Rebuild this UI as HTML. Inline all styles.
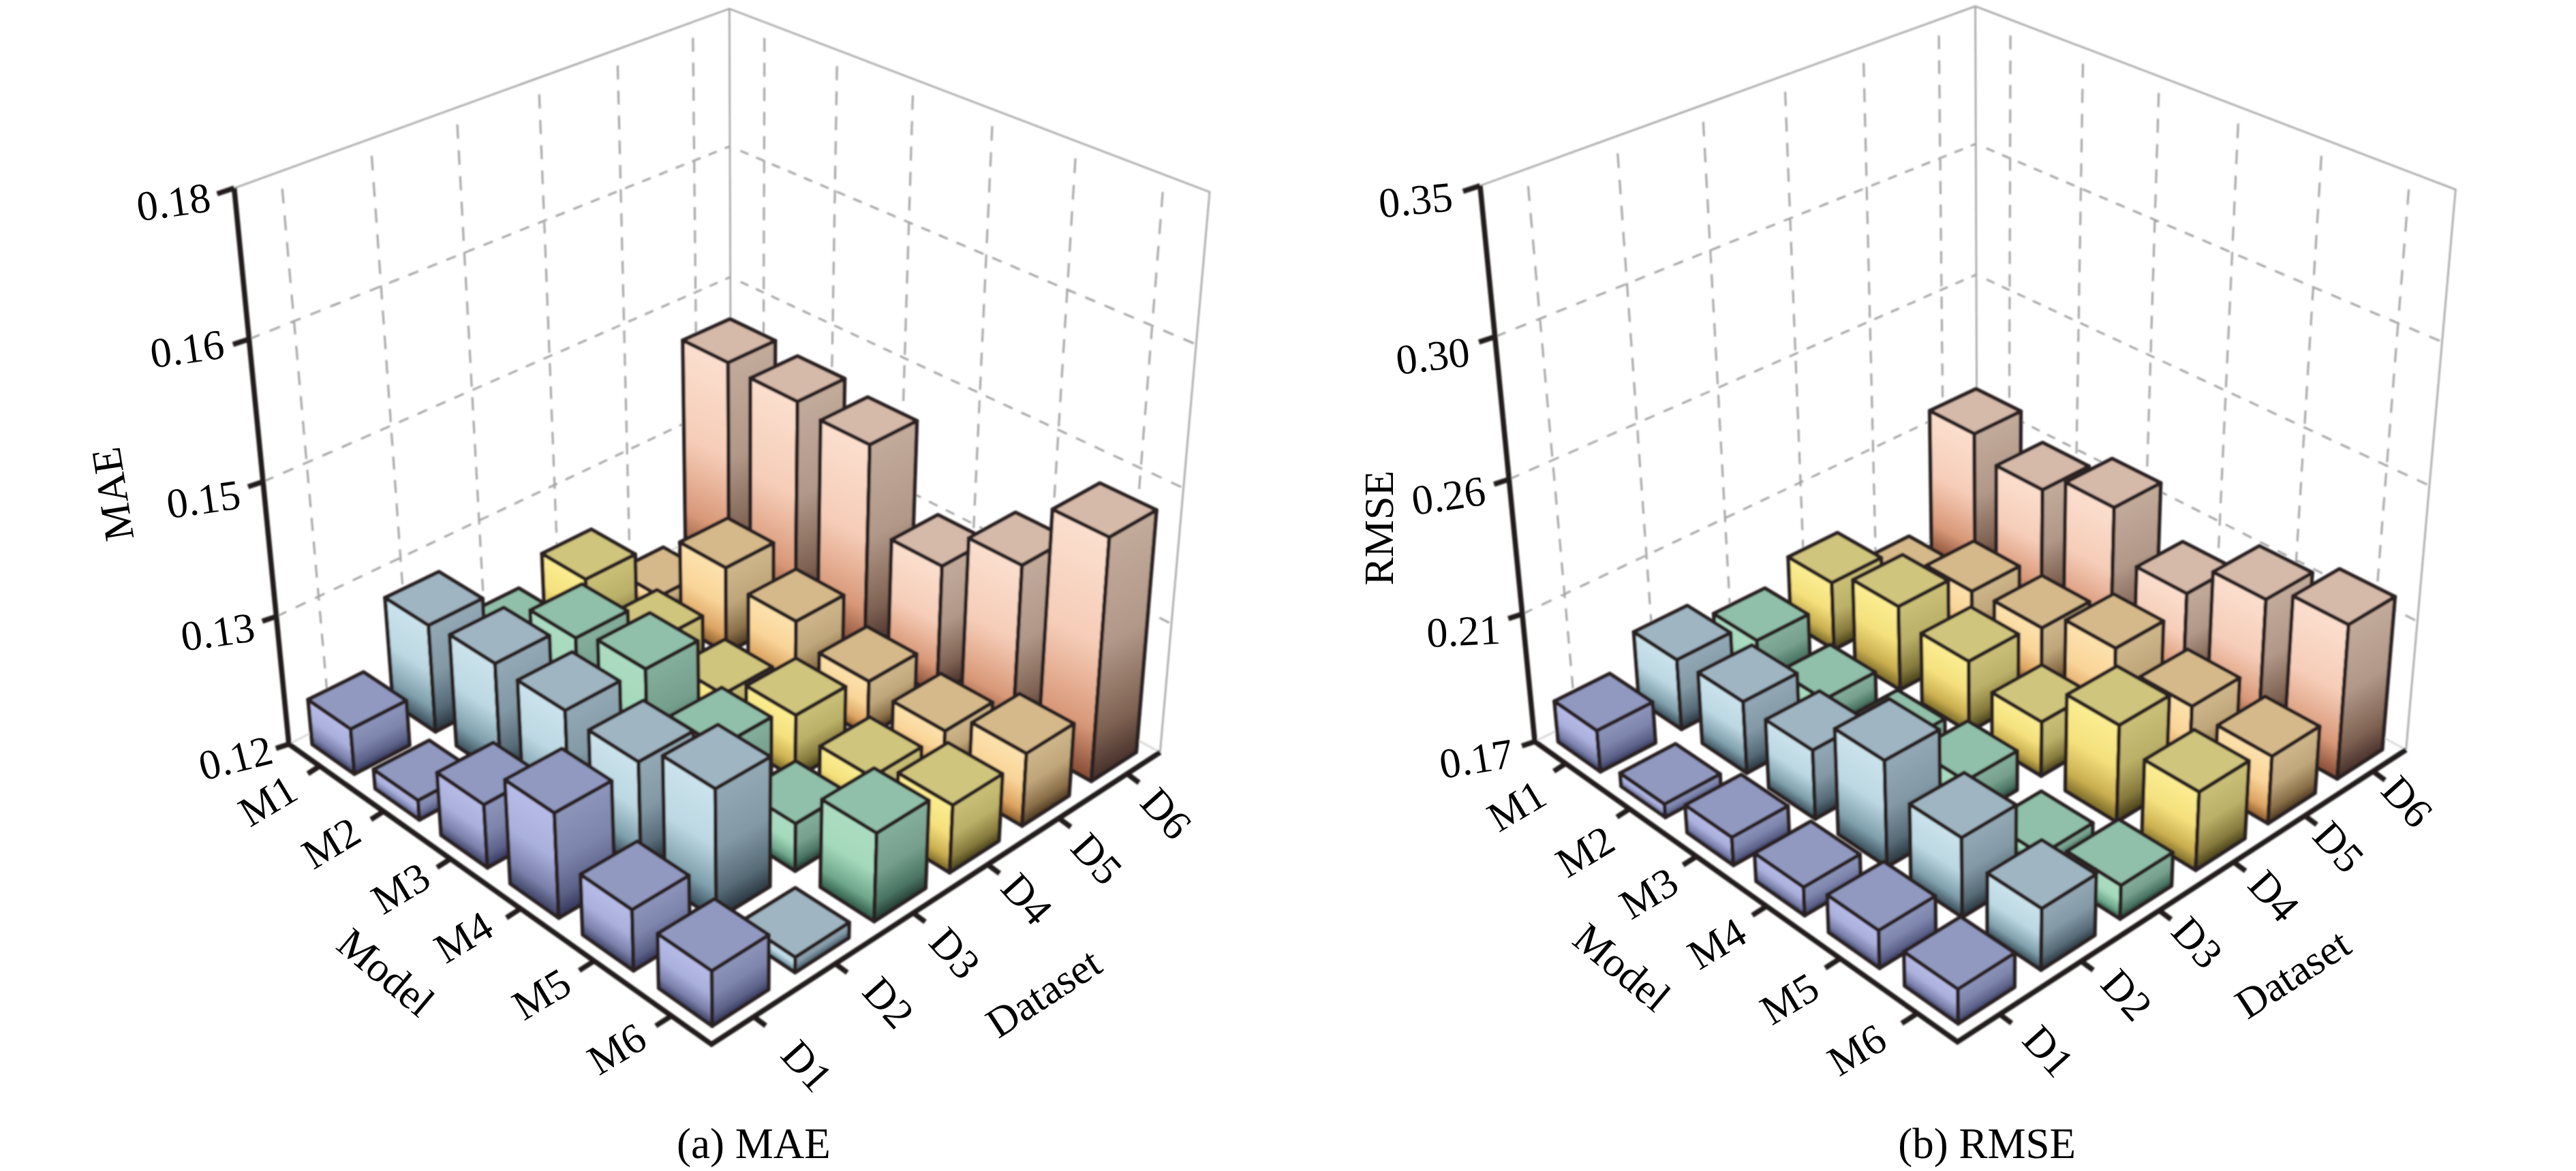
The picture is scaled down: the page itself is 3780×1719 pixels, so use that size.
<!DOCTYPE html>
<html><head><meta charset="utf-8"><title>MAE / RMSE</title>
<style>
html,body{margin:0;padding:0;background:#fff;}
body{width:3780px;height:1719px;overflow:hidden;font-family:"Liberation Serif",serif;}
svg{display:block;}
text{font-family:"Liberation Serif",serif;fill:#000;}
</style></head><body>
<svg width="3780" height="1719" viewBox="0 0 3780 1719">
<rect width="3780" height="1719" fill="#fff"/>
<defs>
<filter id="bl" x="0" y="0" width="3780" height="1719" filterUnits="userSpaceOnUse"><feGaussianBlur stdDeviation="1.1"/></filter>
<linearGradient id="a16l" gradientUnits="userSpaceOnUse" x1="1002.0" y1="499.5" x2="878.4" y2="750.3"><stop offset="0" stop-color="#fbdfcf"/><stop offset="0.45" stop-color="#f6cdb8"/><stop offset="0.8" stop-color="#d89878"/><stop offset="1" stop-color="#8a5038"/></linearGradient>
<linearGradient id="a16r" gradientUnits="userSpaceOnUse" x1="1068.4" y1="532.2" x2="1189.2" y2="793.6"><stop offset="0" stop-color="#c3ab9b"/><stop offset="0.45" stop-color="#b19888"/><stop offset="0.8" stop-color="#7f6252"/><stop offset="1" stop-color="#46302a"/></linearGradient>
<linearGradient id="a15l" gradientUnits="userSpaceOnUse" x1="904.2" y1="838.3" x2="892.9" y2="857.9"><stop offset="0" stop-color="#fde3ae"/><stop offset="0.45" stop-color="#f9d498"/><stop offset="0.8" stop-color="#dca462"/><stop offset="1" stop-color="#8f5f2c"/></linearGradient>
<linearGradient id="a15r" gradientUnits="userSpaceOnUse" x1="967.8" y1="875.1" x2="978.9" y2="896.4"><stop offset="0" stop-color="#cfb78c"/><stop offset="0.45" stop-color="#bfa67a"/><stop offset="0.8" stop-color="#8a6f48"/><stop offset="1" stop-color="#4a3620"/></linearGradient>
<linearGradient id="a14l" gradientUnits="userSpaceOnUse" x1="795.3" y1="812.7" x2="750.3" y2="889.4"><stop offset="0" stop-color="#fbee93"/><stop offset="0.45" stop-color="#f4e07c"/><stop offset="0.8" stop-color="#c9ae50"/><stop offset="1" stop-color="#7a6a28"/></linearGradient>
<linearGradient id="a14r" gradientUnits="userSpaceOnUse" x1="859.4" y1="850.3" x2="902.9" y2="936.9"><stop offset="0" stop-color="#cbc078"/><stop offset="0.45" stop-color="#bbb068"/><stop offset="0.8" stop-color="#857a3c"/><stop offset="1" stop-color="#443d18"/></linearGradient>
<linearGradient id="a13l" gradientUnits="userSpaceOnUse" x1="686.2" y1="900.8" x2="654.4" y2="951.8"><stop offset="0" stop-color="#acdcc2"/><stop offset="0.45" stop-color="#a5d9bc"/><stop offset="0.8" stop-color="#6fa78c"/><stop offset="1" stop-color="#2f5a48"/></linearGradient>
<linearGradient id="a13r" gradientUnits="userSpaceOnUse" x1="749.6" y1="940.3" x2="780.3" y2="1000.6"><stop offset="0" stop-color="#84af9c"/><stop offset="0.45" stop-color="#76a08d"/><stop offset="0.8" stop-color="#4a7463"/><stop offset="1" stop-color="#223a31"/></linearGradient>
<linearGradient id="a12l" gradientUnits="userSpaceOnUse" x1="565.0" y1="877.4" x2="498.3" y2="982.5"><stop offset="0" stop-color="#cbe3ec"/><stop offset="0.45" stop-color="#bcd8e2"/><stop offset="0.8" stop-color="#7f9fac"/><stop offset="1" stop-color="#3a4f5a"/></linearGradient>
<linearGradient id="a12r" gradientUnits="userSpaceOnUse" x1="628.7" y1="917.9" x2="692.8" y2="1047.5"><stop offset="0" stop-color="#93a9b5"/><stop offset="0.45" stop-color="#8399a5"/><stop offset="0.8" stop-color="#566b77"/><stop offset="1" stop-color="#28343d"/></linearGradient>
<linearGradient id="a11l" gradientUnits="userSpaceOnUse" x1="452.1" y1="1027.1" x2="423.4" y2="1068.7"><stop offset="0" stop-color="#b7bce7"/><stop offset="0.45" stop-color="#aab0dc"/><stop offset="0.8" stop-color="#7a80aa"/><stop offset="1" stop-color="#3f4366"/></linearGradient>
<linearGradient id="a11r" gradientUnits="userSpaceOnUse" x1="514.5" y1="1070.2" x2="542.5" y2="1124.9"><stop offset="0" stop-color="#8e95bb"/><stop offset="0.45" stop-color="#7e85ac"/><stop offset="0.8" stop-color="#5c6188"/><stop offset="1" stop-color="#33365a"/></linearGradient>
<linearGradient id="a26l" gradientUnits="userSpaceOnUse" x1="1101.0" y1="555.1" x2="977.3" y2="805.3"><stop offset="0" stop-color="#fbdfcf"/><stop offset="0.45" stop-color="#f6cdb8"/><stop offset="0.8" stop-color="#d89878"/><stop offset="1" stop-color="#8a5038"/></linearGradient>
<linearGradient id="a26r" gradientUnits="userSpaceOnUse" x1="1170.2" y1="589.4" x2="1292.6" y2="843.0"><stop offset="0" stop-color="#c3ab9b"/><stop offset="0.45" stop-color="#b19888"/><stop offset="0.8" stop-color="#7f6252"/><stop offset="1" stop-color="#46302a"/></linearGradient>
<linearGradient id="a25l" gradientUnits="userSpaceOnUse" x1="997.7" y1="796.0" x2="945.3" y2="889.9"><stop offset="0" stop-color="#fde3ae"/><stop offset="0.45" stop-color="#f9d498"/><stop offset="0.8" stop-color="#dca462"/><stop offset="1" stop-color="#8f5f2c"/></linearGradient>
<linearGradient id="a25r" gradientUnits="userSpaceOnUse" x1="1065.0" y1="833.5" x2="1116.3" y2="932.3"><stop offset="0" stop-color="#cfb78c"/><stop offset="0.45" stop-color="#bfa67a"/><stop offset="0.8" stop-color="#8a6f48"/><stop offset="1" stop-color="#4a3620"/></linearGradient>
<linearGradient id="a24l" gradientUnits="userSpaceOnUse" x1="891.8" y1="903.2" x2="860.4" y2="956.0"><stop offset="0" stop-color="#fbee93"/><stop offset="0.45" stop-color="#f4e07c"/><stop offset="0.8" stop-color="#c9ae50"/><stop offset="1" stop-color="#7a6a28"/></linearGradient>
<linearGradient id="a24r" gradientUnits="userSpaceOnUse" x1="958.4" y1="942.8" x2="989.1" y2="1000.7"><stop offset="0" stop-color="#cbc078"/><stop offset="0.45" stop-color="#bbb068"/><stop offset="0.8" stop-color="#857a3c"/><stop offset="1" stop-color="#443d18"/></linearGradient>
<linearGradient id="a23l" gradientUnits="userSpaceOnUse" x1="777.9" y1="895.7" x2="718.2" y2="993.9"><stop offset="0" stop-color="#acdcc2"/><stop offset="0.45" stop-color="#a5d9bc"/><stop offset="0.8" stop-color="#6fa78c"/><stop offset="1" stop-color="#2f5a48"/></linearGradient>
<linearGradient id="a23r" gradientUnits="userSpaceOnUse" x1="844.8" y1="936.4" x2="902.9" y2="1048.6"><stop offset="0" stop-color="#84af9c"/><stop offset="0.45" stop-color="#76a08d"/><stop offset="0.8" stop-color="#4a7463"/><stop offset="1" stop-color="#223a31"/></linearGradient>
<linearGradient id="a22l" gradientUnits="userSpaceOnUse" x1="659.7" y1="931.7" x2="588.9" y2="1043.4"><stop offset="0" stop-color="#cbe3ec"/><stop offset="0.45" stop-color="#bcd8e2"/><stop offset="0.8" stop-color="#7f9fac"/><stop offset="1" stop-color="#3a4f5a"/></linearGradient>
<linearGradient id="a22r" gradientUnits="userSpaceOnUse" x1="726.4" y1="973.9" x2="795.0" y2="1107.7"><stop offset="0" stop-color="#93a9b5"/><stop offset="0.45" stop-color="#8399a5"/><stop offset="0.8" stop-color="#566b77"/><stop offset="1" stop-color="#28343d"/></linearGradient>
<linearGradient id="a21l" gradientUnits="userSpaceOnUse" x1="548.3" y1="1129.6" x2="535.8" y2="1147.5"><stop offset="0" stop-color="#b7bce7"/><stop offset="0.45" stop-color="#aab0dc"/><stop offset="0.8" stop-color="#7a80aa"/><stop offset="1" stop-color="#3f4366"/></linearGradient>
<linearGradient id="a21r" gradientUnits="userSpaceOnUse" x1="613.4" y1="1175.0" x2="625.7" y2="1197.9"><stop offset="0" stop-color="#8e95bb"/><stop offset="0.45" stop-color="#7e85ac"/><stop offset="0.8" stop-color="#5c6188"/><stop offset="1" stop-color="#33365a"/></linearGradient>
<linearGradient id="a36l" gradientUnits="userSpaceOnUse" x1="1204.1" y1="616.9" x2="1081.8" y2="863.2"><stop offset="0" stop-color="#fbdfcf"/><stop offset="0.45" stop-color="#f6cdb8"/><stop offset="0.8" stop-color="#d89878"/><stop offset="1" stop-color="#8a5038"/></linearGradient>
<linearGradient id="a36r" gradientUnits="userSpaceOnUse" x1="1276.3" y1="652.8" x2="1398.6" y2="894.8"><stop offset="0" stop-color="#c3ab9b"/><stop offset="0.45" stop-color="#b19888"/><stop offset="0.8" stop-color="#7f6252"/><stop offset="1" stop-color="#46302a"/></linearGradient>
<linearGradient id="a35l" gradientUnits="userSpaceOnUse" x1="1098.0" y1="872.6" x2="1053.2" y2="952.5"><stop offset="0" stop-color="#fde3ae"/><stop offset="0.45" stop-color="#f9d498"/><stop offset="0.8" stop-color="#dca462"/><stop offset="1" stop-color="#8f5f2c"/></linearGradient>
<linearGradient id="a35r" gradientUnits="userSpaceOnUse" x1="1168.1" y1="912.0" x2="1212.4" y2="993.3"><stop offset="0" stop-color="#cfb78c"/><stop offset="0.45" stop-color="#bfa67a"/><stop offset="0.8" stop-color="#8a6f48"/><stop offset="1" stop-color="#4a3620"/></linearGradient>
<linearGradient id="a34l" gradientUnits="userSpaceOnUse" x1="991.4" y1="977.7" x2="965.9" y2="1020.2"><stop offset="0" stop-color="#fbee93"/><stop offset="0.45" stop-color="#f4e07c"/><stop offset="0.8" stop-color="#c9ae50"/><stop offset="1" stop-color="#7a6a28"/></linearGradient>
<linearGradient id="a34r" gradientUnits="userSpaceOnUse" x1="1060.8" y1="1019.2" x2="1085.8" y2="1064.3"><stop offset="0" stop-color="#cbc078"/><stop offset="0.45" stop-color="#bbb068"/><stop offset="0.8" stop-color="#857a3c"/><stop offset="1" stop-color="#443d18"/></linearGradient>
<linearGradient id="a33l" gradientUnits="userSpaceOnUse" x1="877.1" y1="939.6" x2="808.9" y2="1052.4"><stop offset="0" stop-color="#acdcc2"/><stop offset="0.45" stop-color="#a5d9bc"/><stop offset="0.8" stop-color="#6fa78c"/><stop offset="1" stop-color="#2f5a48"/></linearGradient>
<linearGradient id="a33r" gradientUnits="userSpaceOnUse" x1="947.3" y1="982.0" x2="1014.0" y2="1106.6"><stop offset="0" stop-color="#84af9c"/><stop offset="0.45" stop-color="#76a08d"/><stop offset="0.8" stop-color="#4a7463"/><stop offset="1" stop-color="#223a31"/></linearGradient>
<linearGradient id="a32l" gradientUnits="userSpaceOnUse" x1="759.4" y1="998.6" x2="688.6" y2="1110.1"><stop offset="0" stop-color="#cbe3ec"/><stop offset="0.45" stop-color="#bcd8e2"/><stop offset="0.8" stop-color="#7f9fac"/><stop offset="1" stop-color="#3a4f5a"/></linearGradient>
<linearGradient id="a32r" gradientUnits="userSpaceOnUse" x1="829.2" y1="1042.9" x2="898.4" y2="1172.1"><stop offset="0" stop-color="#93a9b5"/><stop offset="0.45" stop-color="#8399a5"/><stop offset="0.8" stop-color="#566b77"/><stop offset="1" stop-color="#28343d"/></linearGradient>
<linearGradient id="a31l" gradientUnits="userSpaceOnUse" x1="641.2" y1="1134.1" x2="600.4" y2="1193.8"><stop offset="0" stop-color="#b7bce7"/><stop offset="0.45" stop-color="#aab0dc"/><stop offset="0.8" stop-color="#7a80aa"/><stop offset="1" stop-color="#3f4366"/></linearGradient>
<linearGradient id="a31r" gradientUnits="userSpaceOnUse" x1="710.0" y1="1181.2" x2="750.3" y2="1254.6"><stop offset="0" stop-color="#8e95bb"/><stop offset="0.45" stop-color="#7e85ac"/><stop offset="0.8" stop-color="#5c6188"/><stop offset="1" stop-color="#33365a"/></linearGradient>
<linearGradient id="a46l" gradientUnits="userSpaceOnUse" x1="1308.2" y1="792.3" x2="1230.2" y2="941.7"><stop offset="0" stop-color="#fbdfcf"/><stop offset="0.45" stop-color="#f6cdb8"/><stop offset="0.8" stop-color="#d89878"/><stop offset="1" stop-color="#8a5038"/></linearGradient>
<linearGradient id="a46r" gradientUnits="userSpaceOnUse" x1="1382.3" y1="831.0" x2="1460.5" y2="972.5"><stop offset="0" stop-color="#c3ab9b"/><stop offset="0.45" stop-color="#b19888"/><stop offset="0.8" stop-color="#7f6252"/><stop offset="1" stop-color="#46302a"/></linearGradient>
<linearGradient id="a45l" gradientUnits="userSpaceOnUse" x1="1202.1" y1="958.8" x2="1167.9" y2="1019.1"><stop offset="0" stop-color="#fde3ae"/><stop offset="0.45" stop-color="#f9d498"/><stop offset="0.8" stop-color="#dca462"/><stop offset="1" stop-color="#8f5f2c"/></linearGradient>
<linearGradient id="a45r" gradientUnits="userSpaceOnUse" x1="1275.0" y1="1000.2" x2="1309.0" y2="1059.3"><stop offset="0" stop-color="#cfb78c"/><stop offset="0.45" stop-color="#bfa67a"/><stop offset="0.8" stop-color="#8a6f48"/><stop offset="1" stop-color="#4a3620"/></linearGradient>
<linearGradient id="a44l" gradientUnits="userSpaceOnUse" x1="1094.9" y1="1006.7" x2="1054.6" y2="1074.8"><stop offset="0" stop-color="#fbee93"/><stop offset="0.45" stop-color="#f4e07c"/><stop offset="0.8" stop-color="#c9ae50"/><stop offset="1" stop-color="#7a6a28"/></linearGradient>
<linearGradient id="a44r" gradientUnits="userSpaceOnUse" x1="1167.9" y1="1049.8" x2="1207.7" y2="1119.3"><stop offset="0" stop-color="#cbc078"/><stop offset="0.45" stop-color="#bbb068"/><stop offset="0.8" stop-color="#857a3c"/><stop offset="1" stop-color="#443d18"/></linearGradient>
<linearGradient id="a43l" gradientUnits="userSpaceOnUse" x1="982.6" y1="1051.4" x2="933.7" y2="1130.9"><stop offset="0" stop-color="#acdcc2"/><stop offset="0.45" stop-color="#a5d9bc"/><stop offset="0.8" stop-color="#6fa78c"/><stop offset="1" stop-color="#2f5a48"/></linearGradient>
<linearGradient id="a43r" gradientUnits="userSpaceOnUse" x1="1055.6" y1="1096.3" x2="1103.7" y2="1180.9"><stop offset="0" stop-color="#84af9c"/><stop offset="0.45" stop-color="#76a08d"/><stop offset="0.8" stop-color="#4a7463"/><stop offset="1" stop-color="#223a31"/></linearGradient>
<linearGradient id="a42l" gradientUnits="userSpaceOnUse" x1="863.8" y1="1071.8" x2="794.5" y2="1180.8"><stop offset="0" stop-color="#cbe3ec"/><stop offset="0.45" stop-color="#bcd8e2"/><stop offset="0.8" stop-color="#7f9fac"/><stop offset="1" stop-color="#3a4f5a"/></linearGradient>
<linearGradient id="a42r" gradientUnits="userSpaceOnUse" x1="937.0" y1="1118.3" x2="1005.2" y2="1240.0"><stop offset="0" stop-color="#93a9b5"/><stop offset="0.45" stop-color="#8399a5"/><stop offset="0.8" stop-color="#566b77"/><stop offset="1" stop-color="#28343d"/></linearGradient>
<linearGradient id="a41l" gradientUnits="userSpaceOnUse" x1="740.7" y1="1144.6" x2="672.5" y2="1246.2"><stop offset="0" stop-color="#b7bce7"/><stop offset="0.45" stop-color="#aab0dc"/><stop offset="0.8" stop-color="#7a80aa"/><stop offset="1" stop-color="#3f4366"/></linearGradient>
<linearGradient id="a41r" gradientUnits="userSpaceOnUse" x1="813.4" y1="1193.3" x2="880.8" y2="1313.3"><stop offset="0" stop-color="#8e95bb"/><stop offset="0.45" stop-color="#7e85ac"/><stop offset="0.8" stop-color="#5c6188"/><stop offset="1" stop-color="#33365a"/></linearGradient>
<linearGradient id="a56l" gradientUnits="userSpaceOnUse" x1="1421.5" y1="789.9" x2="1318.1" y2="992.8"><stop offset="0" stop-color="#fbdfcf"/><stop offset="0.45" stop-color="#f6cdb8"/><stop offset="0.8" stop-color="#d89878"/><stop offset="1" stop-color="#8a5038"/></linearGradient>
<linearGradient id="a56r" gradientUnits="userSpaceOnUse" x1="1499.7" y1="829.8" x2="1604.4" y2="1014.6"><stop offset="0" stop-color="#c3ab9b"/><stop offset="0.45" stop-color="#b19888"/><stop offset="0.8" stop-color="#7f6252"/><stop offset="1" stop-color="#46302a"/></linearGradient>
<linearGradient id="a55l" gradientUnits="userSpaceOnUse" x1="1310.6" y1="1029.6" x2="1279.5" y2="1084.2"><stop offset="0" stop-color="#fde3ae"/><stop offset="0.45" stop-color="#f9d498"/><stop offset="0.8" stop-color="#dca462"/><stop offset="1" stop-color="#8f5f2c"/></linearGradient>
<linearGradient id="a55r" gradientUnits="userSpaceOnUse" x1="1386.8" y1="1073.0" x2="1417.7" y2="1124.3"><stop offset="0" stop-color="#cfb78c"/><stop offset="0.45" stop-color="#bfa67a"/><stop offset="0.8" stop-color="#8a6f48"/><stop offset="1" stop-color="#4a3620"/></linearGradient>
<linearGradient id="a54l" gradientUnits="userSpaceOnUse" x1="1203.4" y1="1095.3" x2="1172.8" y2="1146.6"><stop offset="0" stop-color="#fbee93"/><stop offset="0.45" stop-color="#f4e07c"/><stop offset="0.8" stop-color="#c9ae50"/><stop offset="1" stop-color="#7a6a28"/></linearGradient>
<linearGradient id="a54r" gradientUnits="userSpaceOnUse" x1="1279.5" y1="1140.7" x2="1309.8" y2="1190.8"><stop offset="0" stop-color="#cbc078"/><stop offset="0.45" stop-color="#bbb068"/><stop offset="0.8" stop-color="#857a3c"/><stop offset="1" stop-color="#443d18"/></linearGradient>
<linearGradient id="a53l" gradientUnits="userSpaceOnUse" x1="1091.5" y1="1161.5" x2="1060.6" y2="1211.1"><stop offset="0" stop-color="#acdcc2"/><stop offset="0.45" stop-color="#a5d9bc"/><stop offset="0.8" stop-color="#6fa78c"/><stop offset="1" stop-color="#2f5a48"/></linearGradient>
<linearGradient id="a53r" gradientUnits="userSpaceOnUse" x1="1167.5" y1="1209.0" x2="1198.1" y2="1259.7"><stop offset="0" stop-color="#84af9c"/><stop offset="0.45" stop-color="#76a08d"/><stop offset="0.8" stop-color="#4a7463"/><stop offset="1" stop-color="#223a31"/></linearGradient>
<linearGradient id="a52l" gradientUnits="userSpaceOnUse" x1="972.4" y1="1109.3" x2="887.6" y2="1244.2"><stop offset="0" stop-color="#cbe3ec"/><stop offset="0.45" stop-color="#bcd8e2"/><stop offset="0.8" stop-color="#7f9fac"/><stop offset="1" stop-color="#3a4f5a"/></linearGradient>
<linearGradient id="a52r" gradientUnits="userSpaceOnUse" x1="1049.6" y1="1157.8" x2="1133.4" y2="1302.3"><stop offset="0" stop-color="#93a9b5"/><stop offset="0.45" stop-color="#8399a5"/><stop offset="0.8" stop-color="#566b77"/><stop offset="1" stop-color="#28343d"/></linearGradient>
<linearGradient id="a51l" gradientUnits="userSpaceOnUse" x1="851.7" y1="1283.5" x2="811.4" y2="1342.3"><stop offset="0" stop-color="#b7bce7"/><stop offset="0.45" stop-color="#aab0dc"/><stop offset="0.8" stop-color="#7a80aa"/><stop offset="1" stop-color="#3f4366"/></linearGradient>
<linearGradient id="a51r" gradientUnits="userSpaceOnUse" x1="927.4" y1="1335.4" x2="967.5" y2="1402.2"><stop offset="0" stop-color="#8e95bb"/><stop offset="0.45" stop-color="#7e85ac"/><stop offset="0.8" stop-color="#5c6188"/><stop offset="1" stop-color="#33365a"/></linearGradient>
<linearGradient id="a66l" gradientUnits="userSpaceOnUse" x1="1544.5" y1="747.8" x2="1400.2" y2="1042.8"><stop offset="0" stop-color="#fbdfcf"/><stop offset="0.45" stop-color="#f6cdb8"/><stop offset="0.8" stop-color="#d89878"/><stop offset="1" stop-color="#8a5038"/></linearGradient>
<linearGradient id="a66r" gradientUnits="userSpaceOnUse" x1="1627.8" y1="788.5" x2="1775.8" y2="1046.8"><stop offset="0" stop-color="#c3ab9b"/><stop offset="0.45" stop-color="#b19888"/><stop offset="0.8" stop-color="#7f6252"/><stop offset="1" stop-color="#46302a"/></linearGradient>
<linearGradient id="a65l" gradientUnits="userSpaceOnUse" x1="1425.9" y1="1060.8" x2="1379.5" y2="1143.1"><stop offset="0" stop-color="#fde3ae"/><stop offset="0.45" stop-color="#f9d498"/><stop offset="0.8" stop-color="#dca462"/><stop offset="1" stop-color="#8f5f2c"/></linearGradient>
<linearGradient id="a65r" gradientUnits="userSpaceOnUse" x1="1506.1" y1="1106.0" x2="1552.1" y2="1179.7"><stop offset="0" stop-color="#cfb78c"/><stop offset="0.45" stop-color="#bfa67a"/><stop offset="0.8" stop-color="#8a6f48"/><stop offset="1" stop-color="#4a3620"/></linearGradient>
<linearGradient id="a64l" gradientUnits="userSpaceOnUse" x1="1317.9" y1="1134.5" x2="1274.0" y2="1208.8"><stop offset="0" stop-color="#fbee93"/><stop offset="0.45" stop-color="#f4e07c"/><stop offset="0.8" stop-color="#c9ae50"/><stop offset="1" stop-color="#7a6a28"/></linearGradient>
<linearGradient id="a64r" gradientUnits="userSpaceOnUse" x1="1398.0" y1="1181.8" x2="1441.4" y2="1251.1"><stop offset="0" stop-color="#cbc078"/><stop offset="0.45" stop-color="#bbb068"/><stop offset="0.8" stop-color="#857a3c"/><stop offset="1" stop-color="#443d18"/></linearGradient>
<linearGradient id="a63l" gradientUnits="userSpaceOnUse" x1="1205.9" y1="1173.7" x2="1148.1" y2="1268.1"><stop offset="0" stop-color="#acdcc2"/><stop offset="0.45" stop-color="#a5d9bc"/><stop offset="0.8" stop-color="#6fa78c"/><stop offset="1" stop-color="#2f5a48"/></linearGradient>
<linearGradient id="a63r" gradientUnits="userSpaceOnUse" x1="1286.4" y1="1222.9" x2="1343.5" y2="1314.9"><stop offset="0" stop-color="#84af9c"/><stop offset="0.45" stop-color="#76a08d"/><stop offset="0.8" stop-color="#4a7463"/><stop offset="1" stop-color="#223a31"/></linearGradient>
<linearGradient id="a62l" gradientUnits="userSpaceOnUse" x1="1087.9" y1="1352.5" x2="1077.6" y2="1368.0"><stop offset="0" stop-color="#cbe3ec"/><stop offset="0.45" stop-color="#bcd8e2"/><stop offset="0.8" stop-color="#7f9fac"/><stop offset="1" stop-color="#3a4f5a"/></linearGradient>
<linearGradient id="a62r" gradientUnits="userSpaceOnUse" x1="1166.9" y1="1405.1" x2="1177.1" y2="1420.9"><stop offset="0" stop-color="#93a9b5"/><stop offset="0.45" stop-color="#8399a5"/><stop offset="0.8" stop-color="#566b77"/><stop offset="1" stop-color="#28343d"/></linearGradient>
<linearGradient id="a61l" gradientUnits="userSpaceOnUse" x1="964.9" y1="1370.5" x2="928.0" y2="1424.3"><stop offset="0" stop-color="#b7bce7"/><stop offset="0.45" stop-color="#aab0dc"/><stop offset="0.8" stop-color="#7a80aa"/><stop offset="1" stop-color="#3f4366"/></linearGradient>
<linearGradient id="a61r" gradientUnits="userSpaceOnUse" x1="1044.5" y1="1425.2" x2="1081.2" y2="1483.4"><stop offset="0" stop-color="#8e95bb"/><stop offset="0.45" stop-color="#7e85ac"/><stop offset="0.8" stop-color="#5c6188"/><stop offset="1" stop-color="#33365a"/></linearGradient>
<linearGradient id="b16l" gradientUnits="userSpaceOnUse" x1="2831.7" y1="603.0" x2="2748.1" y2="765.1"><stop offset="0" stop-color="#fbdfcf"/><stop offset="0.45" stop-color="#f6cdb8"/><stop offset="0.8" stop-color="#d89878"/><stop offset="1" stop-color="#8a5038"/></linearGradient>
<linearGradient id="b16r" gradientUnits="userSpaceOnUse" x1="2897.2" y1="636.8" x2="2979.0" y2="806.2"><stop offset="0" stop-color="#c3ab9b"/><stop offset="0.45" stop-color="#b19888"/><stop offset="0.8" stop-color="#7f6252"/><stop offset="1" stop-color="#46302a"/></linearGradient>
<linearGradient id="b15l" gradientUnits="userSpaceOnUse" x1="2732.1" y1="822.0" x2="2715.5" y2="851.0"><stop offset="0" stop-color="#fde3ae"/><stop offset="0.45" stop-color="#f9d498"/><stop offset="0.8" stop-color="#dca462"/><stop offset="1" stop-color="#8f5f2c"/></linearGradient>
<linearGradient id="b15r" gradientUnits="userSpaceOnUse" x1="2795.9" y1="858.7" x2="2812.2" y2="890.3"><stop offset="0" stop-color="#cfb78c"/><stop offset="0.45" stop-color="#bfa67a"/><stop offset="0.8" stop-color="#8a6f48"/><stop offset="1" stop-color="#4a3620"/></linearGradient>
<linearGradient id="b14l" gradientUnits="userSpaceOnUse" x1="2624.0" y1="817.7" x2="2582.6" y2="888.0"><stop offset="0" stop-color="#fbee93"/><stop offset="0.45" stop-color="#f4e07c"/><stop offset="0.8" stop-color="#c9ae50"/><stop offset="1" stop-color="#7a6a28"/></linearGradient>
<linearGradient id="b14r" gradientUnits="userSpaceOnUse" x1="2688.0" y1="855.4" x2="2728.0" y2="934.8"><stop offset="0" stop-color="#cbc078"/><stop offset="0.45" stop-color="#bbb068"/><stop offset="0.8" stop-color="#857a3c"/><stop offset="1" stop-color="#443d18"/></linearGradient>
<linearGradient id="b13l" gradientUnits="userSpaceOnUse" x1="2514.7" y1="900.8" x2="2484.5" y2="949.2"><stop offset="0" stop-color="#acdcc2"/><stop offset="0.45" stop-color="#a5d9bc"/><stop offset="0.8" stop-color="#6fa78c"/><stop offset="1" stop-color="#2f5a48"/></linearGradient>
<linearGradient id="b13r" gradientUnits="userSpaceOnUse" x1="2578.1" y1="940.3" x2="2607.3" y2="997.6"><stop offset="0" stop-color="#84af9c"/><stop offset="0.45" stop-color="#76a08d"/><stop offset="0.8" stop-color="#4a7463"/><stop offset="1" stop-color="#223a31"/></linearGradient>
<linearGradient id="b12l" gradientUnits="userSpaceOnUse" x1="2397.4" y1="927.7" x2="2353.6" y2="995.3"><stop offset="0" stop-color="#cbe3ec"/><stop offset="0.45" stop-color="#bcd8e2"/><stop offset="0.8" stop-color="#7f9fac"/><stop offset="1" stop-color="#3a4f5a"/></linearGradient>
<linearGradient id="b12r" gradientUnits="userSpaceOnUse" x1="2460.6" y1="968.6" x2="2503.0" y2="1052.5"><stop offset="0" stop-color="#93a9b5"/><stop offset="0.45" stop-color="#8399a5"/><stop offset="0.8" stop-color="#566b77"/><stop offset="1" stop-color="#28343d"/></linearGradient>
<linearGradient id="b11l" gradientUnits="userSpaceOnUse" x1="2280.9" y1="1029.4" x2="2254.8" y2="1067.2"><stop offset="0" stop-color="#b7bce7"/><stop offset="0.45" stop-color="#aab0dc"/><stop offset="0.8" stop-color="#7a80aa"/><stop offset="1" stop-color="#3f4366"/></linearGradient>
<linearGradient id="b11r" gradientUnits="userSpaceOnUse" x1="2343.3" y1="1072.6" x2="2368.8" y2="1122.3"><stop offset="0" stop-color="#8e95bb"/><stop offset="0.45" stop-color="#7e85ac"/><stop offset="0.8" stop-color="#5c6188"/><stop offset="1" stop-color="#33365a"/></linearGradient>
<linearGradient id="b26l" gradientUnits="userSpaceOnUse" x1="2929.3" y1="683.5" x2="2855.7" y2="824.4"><stop offset="0" stop-color="#fbdfcf"/><stop offset="0.45" stop-color="#f6cdb8"/><stop offset="0.8" stop-color="#d89878"/><stop offset="1" stop-color="#8a5038"/></linearGradient>
<linearGradient id="b26r" gradientUnits="userSpaceOnUse" x1="2997.2" y1="719.0" x2="3069.9" y2="862.0"><stop offset="0" stop-color="#c3ab9b"/><stop offset="0.45" stop-color="#b19888"/><stop offset="0.8" stop-color="#7f6252"/><stop offset="1" stop-color="#46302a"/></linearGradient>
<linearGradient id="b25l" gradientUnits="userSpaceOnUse" x1="2826.6" y1="830.1" x2="2789.8" y2="895.0"><stop offset="0" stop-color="#fde3ae"/><stop offset="0.45" stop-color="#f9d498"/><stop offset="0.8" stop-color="#dca462"/><stop offset="1" stop-color="#8f5f2c"/></linearGradient>
<linearGradient id="b25r" gradientUnits="userSpaceOnUse" x1="2893.5" y1="868.0" x2="2929.5" y2="936.3"><stop offset="0" stop-color="#cfb78c"/><stop offset="0.45" stop-color="#bfa67a"/><stop offset="0.8" stop-color="#8a6f48"/><stop offset="1" stop-color="#4a3620"/></linearGradient>
<linearGradient id="b24l" gradientUnits="userSpaceOnUse" x1="2718.7" y1="851.2" x2="2666.9" y2="940.0"><stop offset="0" stop-color="#fbee93"/><stop offset="0.45" stop-color="#f4e07c"/><stop offset="0.8" stop-color="#c9ae50"/><stop offset="1" stop-color="#7a6a28"/></linearGradient>
<linearGradient id="b24r" gradientUnits="userSpaceOnUse" x1="2785.8" y1="890.3" x2="2836.4" y2="987.5"><stop offset="0" stop-color="#cbc078"/><stop offset="0.45" stop-color="#bbb068"/><stop offset="0.8" stop-color="#857a3c"/><stop offset="1" stop-color="#443d18"/></linearGradient>
<linearGradient id="b23l" gradientUnits="userSpaceOnUse" x1="2610.4" y1="985.4" x2="2590.7" y2="1016.8"><stop offset="0" stop-color="#acdcc2"/><stop offset="0.45" stop-color="#a5d9bc"/><stop offset="0.8" stop-color="#6fa78c"/><stop offset="1" stop-color="#2f5a48"/></linearGradient>
<linearGradient id="b23r" gradientUnits="userSpaceOnUse" x1="2676.5" y1="1027.0" x2="2695.8" y2="1063.0"><stop offset="0" stop-color="#84af9c"/><stop offset="0.45" stop-color="#76a08d"/><stop offset="0.8" stop-color="#4a7463"/><stop offset="1" stop-color="#223a31"/></linearGradient>
<linearGradient id="b22l" gradientUnits="userSpaceOnUse" x1="2491.7" y1="987.2" x2="2446.2" y2="1057.4"><stop offset="0" stop-color="#cbe3ec"/><stop offset="0.45" stop-color="#bcd8e2"/><stop offset="0.8" stop-color="#7f9fac"/><stop offset="1" stop-color="#3a4f5a"/></linearGradient>
<linearGradient id="b22r" gradientUnits="userSpaceOnUse" x1="2557.8" y1="1030.1" x2="2602.1" y2="1114.5"><stop offset="0" stop-color="#93a9b5"/><stop offset="0.45" stop-color="#8399a5"/><stop offset="0.8" stop-color="#566b77"/><stop offset="1" stop-color="#28343d"/></linearGradient>
<linearGradient id="b21l" gradientUnits="userSpaceOnUse" x1="2377.4" y1="1134.9" x2="2368.8" y2="1147.1"><stop offset="0" stop-color="#b7bce7"/><stop offset="0.45" stop-color="#aab0dc"/><stop offset="0.8" stop-color="#7a80aa"/><stop offset="1" stop-color="#3f4366"/></linearGradient>
<linearGradient id="b21r" gradientUnits="userSpaceOnUse" x1="2442.4" y1="1180.4" x2="2450.8" y2="1196.0"><stop offset="0" stop-color="#8e95bb"/><stop offset="0.45" stop-color="#7e85ac"/><stop offset="0.8" stop-color="#5c6188"/><stop offset="1" stop-color="#33365a"/></linearGradient>
<linearGradient id="b36l" gradientUnits="userSpaceOnUse" x1="3031.0" y1="708.1" x2="2944.7" y2="875.1"><stop offset="0" stop-color="#fbdfcf"/><stop offset="0.45" stop-color="#f6cdb8"/><stop offset="0.8" stop-color="#d89878"/><stop offset="1" stop-color="#8a5038"/></linearGradient>
<linearGradient id="b36r" gradientUnits="userSpaceOnUse" x1="3102.2" y1="744.9" x2="3188.3" y2="909.0"><stop offset="0" stop-color="#c3ab9b"/><stop offset="0.45" stop-color="#b19888"/><stop offset="0.8" stop-color="#7f6252"/><stop offset="1" stop-color="#46302a"/></linearGradient>
<linearGradient id="b35l" gradientUnits="userSpaceOnUse" x1="2926.4" y1="882.2" x2="2887.0" y2="951.9"><stop offset="0" stop-color="#fde3ae"/><stop offset="0.45" stop-color="#f9d498"/><stop offset="0.8" stop-color="#dca462"/><stop offset="1" stop-color="#8f5f2c"/></linearGradient>
<linearGradient id="b35r" gradientUnits="userSpaceOnUse" x1="2996.3" y1="921.7" x2="3035.1" y2="992.6"><stop offset="0" stop-color="#cfb78c"/><stop offset="0.45" stop-color="#bfa67a"/><stop offset="0.8" stop-color="#8a6f48"/><stop offset="1" stop-color="#4a3620"/></linearGradient>
<linearGradient id="b34l" gradientUnits="userSpaceOnUse" x1="2819.0" y1="929.7" x2="2774.6" y2="1005.3"><stop offset="0" stop-color="#fbee93"/><stop offset="0.45" stop-color="#f4e07c"/><stop offset="0.8" stop-color="#c9ae50"/><stop offset="1" stop-color="#7a6a28"/></linearGradient>
<linearGradient id="b34r" gradientUnits="userSpaceOnUse" x1="2888.9" y1="970.8" x2="2932.6" y2="1050.8"><stop offset="0" stop-color="#cbc078"/><stop offset="0.45" stop-color="#bbb068"/><stop offset="0.8" stop-color="#857a3c"/><stop offset="1" stop-color="#443d18"/></linearGradient>
<linearGradient id="b33l" gradientUnits="userSpaceOnUse" x1="2709.2" y1="1054.1" x2="2691.9" y2="1081.4"><stop offset="0" stop-color="#acdcc2"/><stop offset="0.45" stop-color="#a5d9bc"/><stop offset="0.8" stop-color="#6fa78c"/><stop offset="1" stop-color="#2f5a48"/></linearGradient>
<linearGradient id="b33r" gradientUnits="userSpaceOnUse" x1="2778.2" y1="1097.6" x2="2795.1" y2="1127.9"><stop offset="0" stop-color="#84af9c"/><stop offset="0.45" stop-color="#76a08d"/><stop offset="0.8" stop-color="#4a7463"/><stop offset="1" stop-color="#223a31"/></linearGradient>
<linearGradient id="b32l" gradientUnits="userSpaceOnUse" x1="2590.7" y1="1056.5" x2="2546.5" y2="1124.5"><stop offset="0" stop-color="#cbe3ec"/><stop offset="0.45" stop-color="#bcd8e2"/><stop offset="0.8" stop-color="#7f9fac"/><stop offset="1" stop-color="#3a4f5a"/></linearGradient>
<linearGradient id="b32r" gradientUnits="userSpaceOnUse" x1="2659.9" y1="1101.3" x2="2703.2" y2="1180.5"><stop offset="0" stop-color="#93a9b5"/><stop offset="0.45" stop-color="#8399a5"/><stop offset="0.8" stop-color="#566b77"/><stop offset="1" stop-color="#28343d"/></linearGradient>
<linearGradient id="b31l" gradientUnits="userSpaceOnUse" x1="2472.9" y1="1181.7" x2="2454.8" y2="1207.8"><stop offset="0" stop-color="#b7bce7"/><stop offset="0.45" stop-color="#aab0dc"/><stop offset="0.8" stop-color="#7a80aa"/><stop offset="1" stop-color="#3f4366"/></linearGradient>
<linearGradient id="b31r" gradientUnits="userSpaceOnUse" x1="2541.2" y1="1229.1" x2="2559.2" y2="1261.4"><stop offset="0" stop-color="#8e95bb"/><stop offset="0.45" stop-color="#7e85ac"/><stop offset="0.8" stop-color="#5c6188"/><stop offset="1" stop-color="#33365a"/></linearGradient>
<linearGradient id="b46l" gradientUnits="userSpaceOnUse" x1="3135.2" y1="832.1" x2="3074.8" y2="946.0"><stop offset="0" stop-color="#fbdfcf"/><stop offset="0.45" stop-color="#f6cdb8"/><stop offset="0.8" stop-color="#d89878"/><stop offset="1" stop-color="#8a5038"/></linearGradient>
<linearGradient id="b46r" gradientUnits="userSpaceOnUse" x1="3208.9" y1="871.2" x2="3269.4" y2="979.0"><stop offset="0" stop-color="#c3ab9b"/><stop offset="0.45" stop-color="#b19888"/><stop offset="0.8" stop-color="#7f6252"/><stop offset="1" stop-color="#46302a"/></linearGradient>
<linearGradient id="b45l" gradientUnits="userSpaceOnUse" x1="3031.1" y1="910.5" x2="2978.0" y2="1005.6"><stop offset="0" stop-color="#fde3ae"/><stop offset="0.45" stop-color="#f9d498"/><stop offset="0.8" stop-color="#dca462"/><stop offset="1" stop-color="#8f5f2c"/></linearGradient>
<linearGradient id="b45r" gradientUnits="userSpaceOnUse" x1="3104.5" y1="951.5" x2="3157.2" y2="1044.7"><stop offset="0" stop-color="#cfb78c"/><stop offset="0.45" stop-color="#bfa67a"/><stop offset="0.8" stop-color="#8a6f48"/><stop offset="1" stop-color="#4a3620"/></linearGradient>
<linearGradient id="b44l" gradientUnits="userSpaceOnUse" x1="2923.2" y1="1016.6" x2="2888.8" y2="1074.6"><stop offset="0" stop-color="#fbee93"/><stop offset="0.45" stop-color="#f4e07c"/><stop offset="0.8" stop-color="#c9ae50"/><stop offset="1" stop-color="#7a6a28"/></linearGradient>
<linearGradient id="b44r" gradientUnits="userSpaceOnUse" x1="2996.0" y1="1059.8" x2="3030.1" y2="1118.9"><stop offset="0" stop-color="#cbc078"/><stop offset="0.45" stop-color="#bbb068"/><stop offset="0.8" stop-color="#857a3c"/><stop offset="1" stop-color="#443d18"/></linearGradient>
<linearGradient id="b43l" gradientUnits="userSpaceOnUse" x1="2811.8" y1="1100.9" x2="2786.2" y2="1141.8"><stop offset="0" stop-color="#acdcc2"/><stop offset="0.45" stop-color="#a5d9bc"/><stop offset="0.8" stop-color="#6fa78c"/><stop offset="1" stop-color="#2f5a48"/></linearGradient>
<linearGradient id="b43r" gradientUnits="userSpaceOnUse" x1="2884.2" y1="1146.3" x2="2909.5" y2="1189.9"><stop offset="0" stop-color="#84af9c"/><stop offset="0.45" stop-color="#76a08d"/><stop offset="0.8" stop-color="#4a7463"/><stop offset="1" stop-color="#223a31"/></linearGradient>
<linearGradient id="b42l" gradientUnits="userSpaceOnUse" x1="2692.2" y1="1069.7" x2="2623.6" y2="1177.6"><stop offset="0" stop-color="#cbe3ec"/><stop offset="0.45" stop-color="#bcd8e2"/><stop offset="0.8" stop-color="#7f9fac"/><stop offset="1" stop-color="#3a4f5a"/></linearGradient>
<linearGradient id="b42r" gradientUnits="userSpaceOnUse" x1="2765.3" y1="1116.3" x2="2832.9" y2="1236.7"><stop offset="0" stop-color="#93a9b5"/><stop offset="0.45" stop-color="#8399a5"/><stop offset="0.8" stop-color="#566b77"/><stop offset="1" stop-color="#28343d"/></linearGradient>
<linearGradient id="b41l" gradientUnits="userSpaceOnUse" x1="2574.8" y1="1252.5" x2="2556.2" y2="1279.3"><stop offset="0" stop-color="#b7bce7"/><stop offset="0.45" stop-color="#aab0dc"/><stop offset="0.8" stop-color="#7a80aa"/><stop offset="1" stop-color="#3f4366"/></linearGradient>
<linearGradient id="b41r" gradientUnits="userSpaceOnUse" x1="2646.5" y1="1302.3" x2="2665.0" y2="1334.1"><stop offset="0" stop-color="#8e95bb"/><stop offset="0.45" stop-color="#7e85ac"/><stop offset="0.8" stop-color="#5c6188"/><stop offset="1" stop-color="#33365a"/></linearGradient>
<linearGradient id="b56l" gradientUnits="userSpaceOnUse" x1="3247.4" y1="839.5" x2="3165.0" y2="997.9"><stop offset="0" stop-color="#fbdfcf"/><stop offset="0.45" stop-color="#f6cdb8"/><stop offset="0.8" stop-color="#d89878"/><stop offset="1" stop-color="#8a5038"/></linearGradient>
<linearGradient id="b56r" gradientUnits="userSpaceOnUse" x1="3325.0" y1="879.9" x2="3408.1" y2="1023.9"><stop offset="0" stop-color="#c3ab9b"/><stop offset="0.45" stop-color="#b19888"/><stop offset="0.8" stop-color="#7f6252"/><stop offset="1" stop-color="#46302a"/></linearGradient>
<linearGradient id="b55l" gradientUnits="userSpaceOnUse" x1="3139.9" y1="993.7" x2="3095.0" y2="1073.5"><stop offset="0" stop-color="#fde3ae"/><stop offset="0.45" stop-color="#f9d498"/><stop offset="0.8" stop-color="#dca462"/><stop offset="1" stop-color="#8f5f2c"/></linearGradient>
<linearGradient id="b55r" gradientUnits="userSpaceOnUse" x1="3216.5" y1="1036.8" x2="3261.2" y2="1111.8"><stop offset="0" stop-color="#cfb78c"/><stop offset="0.45" stop-color="#bfa67a"/><stop offset="0.8" stop-color="#8a6f48"/><stop offset="1" stop-color="#4a3620"/></linearGradient>
<linearGradient id="b54l" gradientUnits="userSpaceOnUse" x1="3032.8" y1="1019.8" x2="2971.1" y2="1126.0"><stop offset="0" stop-color="#fbee93"/><stop offset="0.45" stop-color="#f4e07c"/><stop offset="0.8" stop-color="#c9ae50"/><stop offset="1" stop-color="#7a6a28"/></linearGradient>
<linearGradient id="b54r" gradientUnits="userSpaceOnUse" x1="3109.8" y1="1064.5" x2="3170.9" y2="1168.3"><stop offset="0" stop-color="#cbc078"/><stop offset="0.45" stop-color="#bbb068"/><stop offset="0.8" stop-color="#857a3c"/><stop offset="1" stop-color="#443d18"/></linearGradient>
<linearGradient id="b53l" gradientUnits="userSpaceOnUse" x1="2919.9" y1="1206.6" x2="2910.7" y2="1221.1"><stop offset="0" stop-color="#acdcc2"/><stop offset="0.45" stop-color="#a5d9bc"/><stop offset="0.8" stop-color="#6fa78c"/><stop offset="1" stop-color="#2f5a48"/></linearGradient>
<linearGradient id="b53r" gradientUnits="userSpaceOnUse" x1="2995.3" y1="1254.5" x2="3004.4" y2="1269.3"><stop offset="0" stop-color="#84af9c"/><stop offset="0.45" stop-color="#76a08d"/><stop offset="0.8" stop-color="#4a7463"/><stop offset="1" stop-color="#223a31"/></linearGradient>
<linearGradient id="b52l" gradientUnits="userSpaceOnUse" x1="2802.1" y1="1180.3" x2="2750.0" y2="1261.1"><stop offset="0" stop-color="#cbe3ec"/><stop offset="0.45" stop-color="#bcd8e2"/><stop offset="0.8" stop-color="#7f9fac"/><stop offset="1" stop-color="#3a4f5a"/></linearGradient>
<linearGradient id="b52r" gradientUnits="userSpaceOnUse" x1="2878.4" y1="1229.6" x2="2930.0" y2="1316.3"><stop offset="0" stop-color="#93a9b5"/><stop offset="0.45" stop-color="#8399a5"/><stop offset="0.8" stop-color="#566b77"/><stop offset="1" stop-color="#28343d"/></linearGradient>
<linearGradient id="b51l" gradientUnits="userSpaceOnUse" x1="2681.3" y1="1313.6" x2="2656.2" y2="1349.8"><stop offset="0" stop-color="#b7bce7"/><stop offset="0.45" stop-color="#aab0dc"/><stop offset="0.8" stop-color="#7a80aa"/><stop offset="1" stop-color="#3f4366"/></linearGradient>
<linearGradient id="b51r" gradientUnits="userSpaceOnUse" x1="2756.6" y1="1365.8" x2="2781.6" y2="1407.0"><stop offset="0" stop-color="#8e95bb"/><stop offset="0.45" stop-color="#7e85ac"/><stop offset="0.8" stop-color="#5c6188"/><stop offset="1" stop-color="#33365a"/></linearGradient>
<linearGradient id="b66l" gradientUnits="userSpaceOnUse" x1="3364.7" y1="874.8" x2="3270.5" y2="1057.7"><stop offset="0" stop-color="#fbdfcf"/><stop offset="0.45" stop-color="#f6cdb8"/><stop offset="0.8" stop-color="#d89878"/><stop offset="1" stop-color="#8a5038"/></linearGradient>
<linearGradient id="b66r" gradientUnits="userSpaceOnUse" x1="3446.3" y1="916.9" x2="3541.7" y2="1075.9"><stop offset="0" stop-color="#c3ab9b"/><stop offset="0.45" stop-color="#b19888"/><stop offset="0.8" stop-color="#7f6252"/><stop offset="1" stop-color="#46302a"/></linearGradient>
<linearGradient id="b65l" gradientUnits="userSpaceOnUse" x1="3253.8" y1="1064.8" x2="3210.8" y2="1141.1"><stop offset="0" stop-color="#fde3ae"/><stop offset="0.45" stop-color="#f9d498"/><stop offset="0.8" stop-color="#dca462"/><stop offset="1" stop-color="#8f5f2c"/></linearGradient>
<linearGradient id="b65r" gradientUnits="userSpaceOnUse" x1="3333.9" y1="1110.1" x2="3376.7" y2="1178.3"><stop offset="0" stop-color="#cfb78c"/><stop offset="0.45" stop-color="#bfa67a"/><stop offset="0.8" stop-color="#8a6f48"/><stop offset="1" stop-color="#4a3620"/></linearGradient>
<linearGradient id="b64l" gradientUnits="userSpaceOnUse" x1="3146.7" y1="1115.4" x2="3096.1" y2="1201.6"><stop offset="0" stop-color="#fbee93"/><stop offset="0.45" stop-color="#f4e07c"/><stop offset="0.8" stop-color="#c9ae50"/><stop offset="1" stop-color="#7a6a28"/></linearGradient>
<linearGradient id="b64r" gradientUnits="userSpaceOnUse" x1="3227.0" y1="1162.5" x2="3277.2" y2="1242.9"><stop offset="0" stop-color="#cbc078"/><stop offset="0.45" stop-color="#bbb068"/><stop offset="0.8" stop-color="#857a3c"/><stop offset="1" stop-color="#443d18"/></linearGradient>
<linearGradient id="b63l" gradientUnits="userSpaceOnUse" x1="3032.9" y1="1249.6" x2="3010.6" y2="1285.1"><stop offset="0" stop-color="#acdcc2"/><stop offset="0.45" stop-color="#a5d9bc"/><stop offset="0.8" stop-color="#6fa78c"/><stop offset="1" stop-color="#2f5a48"/></linearGradient>
<linearGradient id="b63r" gradientUnits="userSpaceOnUse" x1="3112.4" y1="1299.6" x2="3134.4" y2="1334.1"><stop offset="0" stop-color="#84af9c"/><stop offset="0.45" stop-color="#76a08d"/><stop offset="0.8" stop-color="#4a7463"/><stop offset="1" stop-color="#223a31"/></linearGradient>
<linearGradient id="b62l" gradientUnits="userSpaceOnUse" x1="2916.1" y1="1281.6" x2="2875.2" y2="1344.5"><stop offset="0" stop-color="#cbe3ec"/><stop offset="0.45" stop-color="#bcd8e2"/><stop offset="0.8" stop-color="#7f9fac"/><stop offset="1" stop-color="#3a4f5a"/></linearGradient>
<linearGradient id="b62r" gradientUnits="userSpaceOnUse" x1="2996.0" y1="1333.6" x2="3036.4" y2="1398.0"><stop offset="0" stop-color="#93a9b5"/><stop offset="0.45" stop-color="#8399a5"/><stop offset="0.8" stop-color="#566b77"/><stop offset="1" stop-color="#28343d"/></linearGradient>
<linearGradient id="b61l" gradientUnits="userSpaceOnUse" x1="2793.9" y1="1397.1" x2="2770.7" y2="1430.4"><stop offset="0" stop-color="#b7bce7"/><stop offset="0.45" stop-color="#aab0dc"/><stop offset="0.8" stop-color="#7a80aa"/><stop offset="1" stop-color="#3f4366"/></linearGradient>
<linearGradient id="b61r" gradientUnits="userSpaceOnUse" x1="2873.0" y1="1452.0" x2="2896.1" y2="1488.2"><stop offset="0" stop-color="#8e95bb"/><stop offset="0.45" stop-color="#7e85ac"/><stop offset="0.8" stop-color="#5c6188"/><stop offset="1" stop-color="#33365a"/></linearGradient>
</defs>
<g filter="url(#bl)">
<g fill="none" stroke="#a4a4a4" stroke-width="2.6">
<polyline points="343.6,276.2 1070.3,12.8 1775.0,281.9 1702.3,1104.4"/>
<line x1="1070.3" y1="12.8" x2="1072.9" y2="763.3"/>
</g>
<g fill="none" stroke="#dadada" stroke-width="3">
<polyline points="423.9,1092.3 1072.9,763.3 1702.3,1104.4"/>
</g>
<path fill="none" stroke="#a3a3a3" stroke-width="3" d="M414.1,276.8 L416.1,298.7 M417.6,316.2 L419.5,338.0 M421.1,355.3 L423.0,376.8 M424.5,394.0 L426.4,415.3 M428.0,432.3 L429.8,453.4 M431.3,470.2 L433.2,491.0 M434.7,507.7 L436.5,528.3 M438.0,544.8 L439.8,565.3 M441.3,581.6 L443.1,601.9 M444.5,618.0 L446.3,638.1 M447.7,654.0 L449.5,673.9 M450.9,689.7 L452.7,709.4 M454.1,725.1 L455.8,744.6 M457.2,760.1 L458.9,779.4 M460.3,794.8 L462.0,813.9 M463.3,829.1 L465.0,848.0 M466.4,863.1 L468.0,881.9 M469.4,896.8 L471.0,915.4 M472.3,930.1 L474.0,948.5 M475.3,963.2 L476.9,981.4 M478.2,995.9 L479.8,1014.0 M481.1,1028.4 L482.7,1046.3 M483.9,1060.5 L484.1,1061.8 M1121.8,55.8 L1121.7,76.1 M1121.7,92.3 L1121.6,112.4 M1121.6,128.5 L1121.5,148.4 M1121.5,164.3 L1121.4,184.0 M1121.4,199.8 L1121.3,219.3 M1121.3,234.9 L1121.2,254.3 M1121.2,269.8 L1121.1,289.0 M1121.0,304.3 L1121.0,323.4 M1120.9,338.5 L1120.9,357.4 M1120.8,372.5 L1120.8,391.2 M1120.7,406.1 L1120.7,424.6 M1120.6,439.4 L1120.6,457.8 M1120.5,472.4 L1120.5,490.7 M1120.4,505.2 L1120.4,523.2 M1120.3,537.6 L1120.3,555.5 M1120.2,569.8 L1120.2,587.5 M1120.1,601.7 L1120.1,619.3 M1120.0,633.3 L1120.0,650.8 M1119.9,664.7 L1119.9,682.0 M1119.9,695.7 L1119.8,712.9 M1119.8,726.6 L1119.7,743.6 M1119.7,757.1 L1119.6,774.0 M1119.6,787.4 L1119.6,788.6 M545.4,228.6 L547.0,250.2 M548.2,267.4 L549.8,288.8 M551.0,305.8 L552.5,327.0 M553.7,343.9 L555.2,364.9 M556.4,381.6 L557.9,402.4 M559.1,418.9 L560.5,439.5 M561.7,455.9 L563.2,476.2 M564.3,492.5 L565.8,512.6 M566.9,528.7 L568.3,548.7 M569.5,564.6 L570.9,584.4 M572.0,600.1 L573.4,619.7 M574.5,635.3 L575.9,654.7 M577.0,670.2 L578.4,689.4 M579.5,704.7 L580.9,723.7 M582.0,738.9 L583.3,757.8 M584.4,772.8 L585.7,791.5 M586.8,806.4 L588.1,824.9 M589.2,839.6 L590.5,857.9 M591.5,872.6 L592.8,890.7 M593.9,905.2 L595.1,923.2 M596.2,937.5 L597.4,955.4 M598.5,969.6 L599.7,987.3 M600.7,1001.3 L600.8,1002.6 M1228.2,97.0 L1227.8,117.6 M1227.6,134.1 L1227.2,154.5 M1227.0,170.8 L1226.6,191.1 M1226.4,207.2 L1226.0,227.3 M1225.8,243.3 L1225.4,263.2 M1225.2,279.0 L1224.8,298.8 M1224.6,314.5 L1224.2,334.0 M1224.0,349.5 L1223.7,368.9 M1223.4,384.3 L1223.1,403.5 M1222.8,418.7 L1222.5,437.7 M1222.3,452.9 L1222.0,471.7 M1221.7,486.7 L1221.4,505.4 M1221.2,520.2 L1220.8,538.7 M1220.6,553.4 L1220.3,571.8 M1220.1,586.4 L1219.8,604.5 M1219.5,619.0 L1219.2,637.0 M1219.0,651.3 L1218.7,669.2 M1218.4,683.4 L1218.1,701.1 M1217.9,715.2 L1217.6,732.7 M1217.4,746.7 L1217.1,764.0 M1216.9,777.9 L1216.6,795.1 M1216.4,808.9 L1216.1,825.9 M1215.8,839.5 L1215.8,840.8 M671.0,182.5 L672.2,203.7 M673.1,220.7 L674.3,241.8 M675.2,258.5 L676.4,279.4 M677.3,296.0 L678.4,316.7 M679.3,333.1 L680.4,353.6 M681.3,369.9 L682.4,390.1 M683.3,406.3 L684.4,426.3 M685.3,442.3 L686.4,462.2 M687.3,478.0 L688.4,497.7 M689.2,513.4 L690.3,532.9 M691.1,548.4 L692.2,567.8 M693.1,583.1 L694.1,602.3 M694.9,617.5 L696.0,636.5 M696.8,651.6 L697.8,670.4 M698.7,685.3 L699.7,704.0 M700.5,718.8 L701.5,737.2 M702.3,751.9 L703.3,770.2 M704.1,784.7 L705.1,802.8 M705.9,817.3 L706.9,835.2 M707.7,849.5 L708.7,867.3 M709.4,881.5 L710.4,899.1 M711.2,913.1 L712.1,930.6 M712.9,944.5 L713.0,945.8 M1339.5,140.0 L1338.8,161.0 M1338.3,177.8 L1337.6,198.6 M1337.1,215.1 L1336.5,235.7 M1336.0,252.2 L1335.4,272.6 M1334.9,288.8 L1334.2,309.1 M1333.7,325.2 L1333.1,345.2 M1332.6,361.1 L1332.0,381.0 M1331.5,396.8 L1330.9,416.4 M1330.4,432.1 L1329.8,451.6 M1329.3,467.1 L1328.7,486.4 M1328.3,501.7 L1327.7,520.8 M1327.2,536.0 L1326.6,555.0 M1326.1,570.1 L1325.6,588.8 M1325.1,603.8 L1324.5,622.4 M1324.1,637.2 L1323.5,655.6 M1323.0,670.3 L1322.5,688.5 M1322.0,703.1 L1321.5,721.2 M1321.0,735.6 L1320.5,753.5 M1320.0,767.8 L1319.5,785.6 M1319.0,799.7 L1318.5,817.4 M1318.0,831.4 L1317.5,848.8 M1317.1,862.8 L1316.5,880.1 M1316.1,893.8 L1316.1,895.1 M791.2,138.4 L792.1,159.3 M792.7,176.0 L793.5,196.7 M794.2,213.2 L795.0,233.8 M795.6,250.1 L796.4,270.5 M797.1,286.7 L797.9,306.8 M798.5,322.9 L799.3,342.8 M799.9,358.7 L800.7,378.5 M801.3,394.3 L802.1,413.9 M802.7,429.5 L803.4,448.9 M804.0,464.3 L804.8,483.6 M805.4,498.9 L806.1,517.9 M806.7,533.1 L807.5,552.0 M808.1,567.0 L808.8,585.7 M809.4,600.6 L810.1,619.2 M810.7,633.9 L811.4,652.3 M812.0,666.9 L812.7,685.1 M813.3,699.6 L814.0,717.7 M814.5,732.0 L815.2,749.9 M815.8,764.2 L816.5,781.9 M817.1,796.0 L817.7,813.6 M818.3,827.6 L819.0,845.0 M819.5,858.9 L820.2,876.1 M820.7,889.9 L820.8,891.1 M1456.0,185.1 L1455.0,206.5 M1454.2,223.5 L1453.2,244.6 M1452.4,261.5 L1451.5,282.5 M1450.7,299.2 L1449.7,319.9 M1449.0,336.4 L1448.0,357.0 M1447.3,373.4 L1446.3,393.7 M1445.6,409.9 L1444.7,430.1 M1443.9,446.2 L1443.0,466.1 M1442.3,482.0 L1441.3,501.8 M1440.6,517.6 L1439.7,537.1 M1439.0,552.7 L1438.1,572.2 M1437.4,587.6 L1436.5,606.8 M1435.8,622.1 L1434.9,641.2 M1434.2,656.4 L1433.3,675.2 M1432.6,690.2 L1431.8,708.9 M1431.1,723.8 L1430.2,742.3 M1429.6,757.1 L1428.7,775.4 M1428.0,790.1 L1427.2,808.2 M1426.5,822.7 L1425.7,840.7 M1425.0,855.1 L1424.2,872.9 M1423.6,887.2 L1422.7,904.9 M1422.1,919.0 L1421.3,936.5 M1420.6,950.5 L1420.6,951.7 M906.4,96.1 L906.9,116.7 M907.3,133.1 L907.8,153.5 M908.2,169.8 L908.7,190.0 M909.1,206.1 L909.6,226.2 M910.0,242.1 L910.4,262.0 M910.8,277.8 L911.3,297.5 M911.7,313.1 L912.2,332.6 M912.5,348.2 L913.0,367.5 M913.4,382.9 L913.9,402.0 M914.2,417.2 L914.7,436.2 M915.1,451.3 L915.5,470.1 M915.9,485.1 L916.3,503.7 M916.7,518.5 L917.1,537.0 M917.5,551.7 L917.9,570.0 M918.3,584.5 L918.7,602.7 M919.1,617.1 L919.5,635.1 M919.9,649.4 L920.3,667.2 M920.7,681.4 L921.1,699.1 M921.4,713.1 L921.9,730.6 M922.2,744.6 L922.6,761.9 M923.0,775.8 L923.4,793.0 M923.7,806.7 L924.1,823.7 M924.5,837.3 L924.5,838.5 M1578.1,232.3 L1576.7,254.1 M1575.7,271.4 L1574.3,292.9 M1573.2,310.1 L1571.9,331.4 M1570.9,348.4 L1569.5,369.5 M1568.5,386.3 L1567.2,407.2 M1566.2,423.9 L1564.9,444.6 M1563.8,461.0 L1562.6,481.5 M1561.6,497.8 L1560.3,518.1 M1559.3,534.3 L1558.0,554.4 M1557.0,570.4 L1555.8,590.3 M1554.8,606.1 L1553.6,625.8 M1552.6,641.5 L1551.4,661.0 M1550.4,676.6 L1549.2,695.9 M1548.3,711.3 L1547.1,730.5 M1546.1,745.7 L1544.9,764.7 M1544.0,779.8 L1542.8,798.6 M1541.9,813.5 L1540.7,832.1 M1539.8,846.9 L1538.7,865.4 M1537.8,880.1 L1536.6,898.3 M1535.7,912.9 L1534.6,931.0 M1533.7,945.4 L1532.6,963.3 M1531.7,977.6 L1530.6,995.4 M1529.7,1009.5 L1529.6,1010.8 M1016.8,55.6 L1017.0,75.9 M1017.2,92.0 L1017.4,112.1 M1017.6,128.2 L1017.8,148.1 M1017.9,163.9 L1018.1,183.7 M1018.3,199.4 L1018.5,219.0 M1018.7,234.6 L1018.9,253.9 M1019.0,269.4 L1019.2,288.6 M1019.4,303.9 L1019.6,322.9 M1019.7,338.1 L1019.9,357.0 M1020.1,372.0 L1020.3,390.7 M1020.4,405.6 L1020.6,424.1 M1020.8,438.9 L1020.9,457.3 M1021.1,471.9 L1021.3,490.1 M1021.4,504.6 L1021.6,522.7 M1021.8,537.1 L1021.9,555.0 M1022.1,569.2 L1022.3,587.0 M1022.4,601.1 L1022.6,618.7 M1022.7,632.7 L1022.9,650.1 M1023.1,664.0 L1023.2,681.3 M1023.4,695.1 L1023.6,712.2 M1023.7,725.9 L1023.9,742.9 M1024.0,756.4 L1024.2,773.3 M1024.3,786.7 L1024.3,787.9 M1706.2,281.9 L1704.5,304.0 M1703.1,321.7 L1701.3,343.6 M1700.0,361.0 L1698.2,382.7 M1696.9,400.0 L1695.2,421.5 M1693.8,438.6 L1692.1,459.8 M1690.8,476.8 L1689.1,497.8 M1687.8,514.6 L1686.1,535.4 M1684.8,552.0 L1683.2,572.6 M1681.9,589.0 L1680.2,609.4 M1678.9,625.7 L1677.3,645.9 M1676.1,662.0 L1674.5,682.0 M1673.2,698.0 L1671.6,717.8 M1670.4,733.5 L1668.8,753.2 M1667.6,768.8 L1666.0,788.2 M1664.8,803.7 L1663.3,822.9 M1662.1,838.3 L1660.6,857.3 M1659.4,872.5 L1657.9,891.4 M1656.7,906.4 L1655.2,925.1 M1654.0,940.0 L1652.5,958.5 M1651.4,973.3 L1649.9,991.6 M1648.7,1006.2 L1647.3,1024.4 M1646.1,1038.8 L1644.7,1056.9 M1643.6,1071.2 L1643.5,1072.5 M405.4,905.0 L420.1,898.1 M433.9,891.6 L448.4,884.7 M462.1,878.2 L476.4,871.4 M490.0,865.0 L504.2,858.3 M517.6,851.9 L531.7,845.3 M545.0,839.0 L558.9,832.4 M572.1,826.1 L585.9,819.6 M598.9,813.4 L612.6,806.9 M625.6,800.8 L639.1,794.4 M651.9,788.3 L665.3,782.0 M678.0,776.0 L691.3,769.7 M703.9,763.7 L717.1,757.5 M729.5,751.6 L742.6,745.4 M754.9,739.6 L767.9,733.4 M780.1,727.6 L792.9,721.6 M805.0,715.8 L817.8,709.8 M829.8,704.1 L842.4,698.2 M854.3,692.5 L866.7,686.6 M878.5,681.1 L890.9,675.2 M902.6,669.7 L914.8,663.9 M926.4,658.4 L938.6,652.6 M950.1,647.2 L962.1,641.5 M973.5,636.1 L985.4,630.4 M996.7,625.1 L1008.5,619.5 M1019.7,614.2 L1031.5,608.7 M1042.5,603.4 L1054.2,597.9 M1065.2,592.7 L1072.3,589.3 M1087.1,596.8 L1098.3,602.5 M1108.9,607.8 L1120.2,613.5 M1131.0,619.0 L1142.3,624.7 M1153.2,630.2 L1164.7,636.0 M1175.6,641.5 L1187.3,647.4 M1198.3,653.0 L1210.0,658.9 M1221.2,664.5 L1233.0,670.5 M1244.3,676.2 L1256.2,682.2 M1267.6,687.9 L1279.7,694.0 M1291.2,699.8 L1303.3,706.0 M1314.9,711.8 L1327.2,718.0 M1338.9,723.9 L1351.3,730.2 M1363.2,736.2 L1375.7,742.5 M1387.7,748.5 L1400.3,754.9 M1412.4,761.0 L1425.2,767.5 M1437.3,773.6 L1450.3,780.1 M1462.6,786.3 L1475.6,792.9 M1488.0,799.2 L1501.2,805.8 M1513.8,812.2 L1527.1,818.9 M1539.7,825.3 L1553.2,832.1 M1566.0,838.5 L1579.6,845.4 M1592.5,851.9 L1606.2,858.8 M1619.3,865.5 L1633.2,872.4 M1646.4,879.1 L1660.4,886.2 M1673.7,892.9 L1687.9,900.1 M1701.4,906.9 L1715.7,914.1 M386.0,707.2 L401.1,700.6 M415.3,694.3 L430.3,687.8 M444.4,681.6 L459.2,675.1 M473.1,669.0 L487.8,662.6 M501.6,656.5 L516.1,650.2 M529.8,644.2 L544.2,637.9 M557.8,631.9 L572.0,625.7 M585.4,619.8 L599.5,613.6 M612.8,607.8 L626.8,601.7 M639.9,595.9 L653.8,589.8 M666.8,584.1 L680.5,578.1 M693.4,572.5 L707.0,566.5 M719.8,560.9 L733.2,555.0 M745.9,549.5 L759.2,543.6 M771.8,538.1 L784.9,532.3 M797.4,526.9 L810.5,521.2 M822.8,515.8 L835.7,510.1 M847.9,504.7 L860.8,499.1 M872.9,493.8 L885.6,488.2 M897.6,483.0 L910.2,477.5 M922.1,472.2 L934.5,466.8 M946.3,461.6 L958.7,456.2 M970.3,451.1 L982.6,445.7 M994.2,440.6 L1006.3,435.3 M1017.8,430.3 L1029.8,425.0 M1041.2,420.0 L1053.1,414.8 M1064.4,409.9 L1071.6,406.7 M1086.8,413.8 L1098.3,419.1 M1109.2,424.2 L1120.8,429.6 M1131.8,434.7 L1143.5,440.2 M1154.6,445.3 L1166.4,450.8 M1177.6,456.1 L1189.5,461.6 M1200.9,466.9 L1212.9,472.5 M1224.4,477.8 L1236.5,483.5 M1248.1,488.9 L1260.3,494.6 M1272.0,500.0 L1284.4,505.8 M1296.2,511.3 L1308.7,517.1 M1320.6,522.7 L1333.2,528.6 M1345.3,534.2 L1358.0,540.1 M1370.2,545.8 L1383.1,551.8 M1395.4,557.5 L1408.4,563.5 M1420.8,569.3 L1433.9,575.4 M1446.5,581.3 L1459.7,587.5 M1472.4,593.4 L1485.8,599.6 M1498.6,605.6 L1512.2,611.9 M1525.1,617.9 L1538.8,624.3 M1551.8,630.4 L1565.7,636.8 M1578.9,643.0 L1592.9,649.5 M1606.2,655.7 L1620.3,662.3 M1633.8,668.6 L1648.1,675.2 M1661.7,681.6 L1676.2,688.3 M1689.9,694.7 L1704.5,701.5 M1718.4,708.0 L1733.2,714.9 M365.4,497.9 L381.0,491.7 M395.7,485.8 L411.1,479.6 M425.7,473.7 L441.0,467.6 M455.4,461.8 L470.5,455.8 M484.7,450.0 L499.7,444.0 M513.8,438.4 L528.6,432.4 M542.6,426.8 L557.3,420.9 M571.1,415.4 L585.6,409.5 M599.3,404.0 L613.7,398.3 M627.3,392.8 L641.5,387.1 M655.0,381.7 L669.0,376.1 M682.4,370.7 L696.3,365.1 M709.5,359.8 L723.3,354.3 M736.4,349.1 L750.1,343.6 M763.0,338.4 L776.5,332.9 M789.3,327.8 L802.8,322.4 M815.4,317.3 L828.8,312.0 M841.3,306.9 L854.5,301.6 M866.9,296.6 L880.0,291.4 M892.3,286.5 L905.2,281.3 M917.4,276.4 L930.3,271.2 M942.4,266.4 L955.0,261.3 M967.0,256.5 L979.6,251.4 M991.5,246.7 L1003.9,241.7 M1015.7,236.9 L1028.1,232.0 M1039.7,227.3 L1051.9,222.4 M1063.5,217.7 L1071.0,214.8 M1086.5,221.4 L1098.3,226.4 M1109.5,231.1 L1121.4,236.2 M1132.7,241.0 L1144.6,246.1 M1156.1,250.9 L1168.2,256.1 M1179.7,261.0 L1191.9,266.1 M1203.6,271.1 L1215.9,276.3 M1227.7,281.3 L1240.2,286.6 M1252.0,291.7 L1264.6,297.0 M1276.6,302.1 L1289.4,307.5 M1301.5,312.7 L1314.3,318.2 M1326.6,323.4 L1339.6,328.9 M1352.0,334.1 L1365.1,339.7 M1377.6,345.0 L1390.8,350.7 M1403.5,356.0 L1416.9,361.7 M1429.6,367.1 L1443.2,372.9 M1456.1,378.4 L1469.7,384.2 M1482.8,389.7 L1496.6,395.6 M1509.8,401.2 L1523.7,407.1 M1537.0,412.8 L1551.2,418.8 M1564.6,424.5 L1578.9,430.6 M1592.5,436.3 L1606.9,442.5 M1620.7,448.3 L1635.2,454.5 M1649.1,460.4 L1663.9,466.7 M1677.9,472.7 L1692.8,479.0 M1707.0,485.0 L1722.1,491.4 M1736.5,497.5 L1751.7,504.0"/>
<g stroke="#2b2224" stroke-width="5.6" stroke-linejoin="round">
<polygon fill="url(#a16l)" points="1002.0,499.5 1068.4,532.2 1069.7,848.9 1006.1,813.2"/>
<polygon fill="url(#a16r)" points="1068.4,532.2 1137.6,500.2 1136.0,814.2 1069.7,848.9"/>
<polygon fill="#d5b9a9" points="1002.0,499.5 1068.4,532.2 1137.6,500.2 1071.2,468.4"/>
<polygon fill="url(#a15l)" points="904.2,838.3 967.8,875.1 968.3,901.9 904.9,864.8"/>
<polygon fill="url(#a15r)" points="967.8,875.1 1037.0,839.3 1037.2,865.9 968.3,901.9"/>
<polygon fill="#d5b98a" points="904.2,838.3 967.8,875.1 1037.0,839.3 973.2,803.4"/>
<polygon fill="url(#a14l)" points="795.3,812.7 859.4,850.3 862.9,957.0 799.8,918.4"/>
<polygon fill="url(#a14r)" points="859.4,850.3 932.1,813.7 934.6,919.6 862.9,957.0"/>
<polygon fill="#cfc57d" points="795.3,812.7 859.4,850.3 932.1,813.7 867.8,777.1"/>
<polygon fill="url(#a13l)" points="686.2,900.8 749.6,940.3 753.3,1014.4 690.5,974.2"/>
<polygon fill="url(#a13r)" points="749.6,940.3 825.0,901.9 827.8,975.4 753.3,1014.4"/>
<polygon fill="#90c0a9" points="686.2,900.8 749.6,940.3 825.0,901.9 761.3,863.5"/>
<polygon fill="url(#a12l)" points="565.0,877.4 628.7,917.9 639.1,1074.1 576.7,1032.2"/>
<polygon fill="url(#a12r)" points="628.7,917.9 708.2,878.6 716.7,1033.5 639.1,1074.1"/>
<polygon fill="#9fb5c1" points="565.0,877.4 628.7,917.9 708.2,878.6 644.2,839.3"/>
<polygon fill="url(#a11l)" points="452.1,1027.1 514.5,1070.2 520.1,1136.3 458.2,1092.7"/>
<polygon fill="url(#a11r)" points="514.5,1070.2 596.3,1028.4 601.0,1094.0 520.1,1136.3"/>
<polygon fill="#9199c0" points="452.1,1027.1 514.5,1070.2 596.3,1028.4 533.5,986.6"/>
<polygon fill="url(#a26l)" points="1101.0,555.1 1170.2,589.4 1167.1,903.5 1100.9,866.4"/>
<polygon fill="url(#a26r)" points="1170.2,589.4 1239.5,555.9 1233.5,867.4 1167.1,903.5"/>
<polygon fill="#d5b9a9" points="1101.0,555.1 1170.2,589.4 1239.5,555.9 1170.2,522.7"/>
<polygon fill="url(#a25l)" points="997.7,796.0 1065.0,833.5 1065.6,958.7 999.5,920.1"/>
<polygon fill="url(#a25r)" points="1065.0,833.5 1135.2,797.0 1134.6,921.2 1065.6,958.7"/>
<polygon fill="#d5b98a" points="997.7,796.0 1065.0,833.5 1135.2,797.0 1067.9,760.5"/>
<polygon fill="url(#a24l)" points="891.8,903.2 958.4,942.8 959.9,1016.2 894.0,975.9"/>
<polygon fill="url(#a24r)" points="958.4,942.8 1031.0,904.3 1031.7,977.1 959.9,1016.2"/>
<polygon fill="#cfc57d" points="891.8,903.2 958.4,942.8 1031.0,904.3 964.3,865.8"/>
<polygon fill="url(#a23l)" points="777.9,895.7 844.8,936.4 849.8,1076.0 784.2,1034.1"/>
<polygon fill="url(#a23r)" points="844.8,936.4 921.2,896.9 924.6,1035.4 849.8,1076.0"/>
<polygon fill="#90c0a9" points="777.9,895.7 844.8,936.4 921.2,896.9 854.1,857.3"/>
<polygon fill="url(#a22l)" points="659.7,931.7 726.4,973.9 735.1,1138.4 669.8,1094.6"/>
<polygon fill="url(#a22r)" points="726.4,973.9 806.3,932.9 813.1,1096.0 735.1,1138.4"/>
<polygon fill="#9fb5c1" points="659.7,931.7 726.4,973.9 806.3,932.9 739.4,891.8"/>
<polygon fill="url(#a21l)" points="548.3,1129.6 613.4,1175.0 615.4,1203.5 550.6,1157.8"/>
<polygon fill="url(#a21r)" points="613.4,1175.0 695.2,1131.0 696.8,1159.2 615.4,1203.5"/>
<polygon fill="#9199c0" points="548.3,1129.6 613.4,1175.0 695.2,1131.0 629.8,1086.9"/>
<polygon fill="url(#a36l)" points="1204.1,616.9 1276.3,652.8 1268.7,960.5 1199.7,921.7"/>
<polygon fill="url(#a36r)" points="1276.3,652.8 1345.5,617.8 1335.2,922.9 1268.7,960.5"/>
<polygon fill="#d5b9a9" points="1204.1,616.9 1276.3,652.8 1345.5,617.8 1273.3,583.0"/>
<polygon fill="url(#a35l)" points="1098.0,872.6 1168.1,912.0 1167.0,1018.0 1098.0,977.7"/>
<polygon fill="url(#a35r)" points="1168.1,912.0 1238.3,873.7 1236.2,978.9 1167.0,1018.0"/>
<polygon fill="#d5b98a" points="1098.0,872.6 1168.1,912.0 1238.3,873.7 1168.1,835.4"/>
<polygon fill="url(#a34l)" points="991.4,977.7 1060.8,1019.2 1061.1,1078.0 992.3,1036.0"/>
<polygon fill="url(#a34r)" points="1060.8,1019.2 1133.4,978.9 1133.1,1037.2 1061.1,1078.0"/>
<polygon fill="#cfc57d" points="991.4,977.7 1060.8,1019.2 1133.4,978.9 1063.9,938.5"/>
<polygon fill="url(#a33l)" points="877.1,939.6 947.3,982.0 950.7,1140.5 882.1,1096.6"/>
<polygon fill="url(#a33r)" points="947.3,982.0 1024.1,940.8 1025.8,1098.0 950.7,1140.5"/>
<polygon fill="#90c0a9" points="877.1,939.6 947.3,982.0 1024.1,940.8 953.8,899.6"/>
<polygon fill="url(#a32l)" points="759.4,998.6 829.2,1042.9 835.5,1205.7 767.2,1159.9"/>
<polygon fill="url(#a32r)" points="829.2,1042.9 909.5,999.9 913.9,1161.4 835.5,1205.7"/>
<polygon fill="#9fb5c1" points="759.4,998.6 829.2,1042.9 909.5,999.9 839.4,956.9"/>
<polygon fill="url(#a31l)" points="641.2,1134.1 710.0,1181.2 715.3,1273.8 647.3,1225.9"/>
<polygon fill="url(#a31r)" points="710.0,1181.2 792.9,1135.6 797.1,1227.5 715.3,1273.8"/>
<polygon fill="#9199c0" points="641.2,1134.1 710.0,1181.2 792.9,1135.6 723.9,1090.0"/>
<polygon fill="url(#a46l)" points="1308.2,792.3 1382.3,831.0 1374.8,1019.9 1302.7,979.5"/>
<polygon fill="url(#a46r)" points="1382.3,831.0 1450.4,793.4 1441.2,980.7 1374.8,1019.9"/>
<polygon fill="#d5b9a9" points="1308.2,792.3 1382.3,831.0 1450.4,793.4 1376.3,755.7"/>
<polygon fill="url(#a45l)" points="1202.1,958.8 1275.0,1000.2 1273.0,1080.0 1200.9,1037.8"/>
<polygon fill="url(#a45r)" points="1275.0,1000.2 1345.0,960.0 1342.2,1039.1 1273.0,1080.0"/>
<polygon fill="#d5b98a" points="1202.1,958.8 1275.0,1000.2 1345.0,960.0 1272.0,919.8"/>
<polygon fill="url(#a44l)" points="1094.9,1006.7 1167.9,1049.8 1166.9,1142.6 1095.0,1098.7"/>
<polygon fill="url(#a44r)" points="1167.9,1049.8 1241.0,1008.0 1239.1,1100.0 1166.9,1142.6"/>
<polygon fill="#cfc57d" points="1094.9,1006.7 1167.9,1049.8 1241.0,1008.0 1167.9,966.1"/>
<polygon fill="url(#a43l)" points="982.6,1051.4 1055.6,1096.3 1056.3,1207.9 984.5,1162.1"/>
<polygon fill="url(#a43r)" points="1055.6,1096.3 1132.1,1052.8 1131.5,1163.5 1056.3,1207.9"/>
<polygon fill="#90c0a9" points="982.6,1051.4 1055.6,1096.3 1132.1,1052.8 1059.0,1009.2"/>
<polygon fill="url(#a42l)" points="863.8,1071.8 937.0,1118.3 940.7,1276.2 869.1,1228.2"/>
<polygon fill="url(#a42r)" points="937.0,1118.3 1017.5,1073.2 1019.3,1229.8 940.7,1276.2"/>
<polygon fill="#9fb5c1" points="863.8,1071.8 937.0,1118.3 1017.5,1073.2 944.1,1028.1"/>
<polygon fill="url(#a41l)" points="740.7,1144.6 813.4,1193.3 819.9,1347.5 748.7,1297.3"/>
<polygon fill="url(#a41r)" points="813.4,1193.3 897.6,1146.1 902.1,1299.0 819.9,1347.5"/>
<polygon fill="#9199c0" points="740.7,1144.6 813.4,1193.3 897.6,1146.1 824.6,1098.8"/>
<polygon fill="url(#a56l)" points="1421.5,789.9 1499.7,829.8 1485.5,1081.9 1410.2,1039.7"/>
<polygon fill="url(#a56r)" points="1499.7,829.8 1568.3,791.0 1551.8,1041.0 1485.5,1081.9"/>
<polygon fill="#d5b9a9" points="1421.5,789.9 1499.7,829.8 1568.3,791.0 1490.1,752.2"/>
<polygon fill="url(#a55l)" points="1310.6,1029.6 1386.8,1073.0 1383.8,1144.7 1308.4,1100.7"/>
<polygon fill="url(#a55r)" points="1386.8,1073.0 1456.6,1030.9 1452.9,1102.0 1383.8,1144.7"/>
<polygon fill="#d5b98a" points="1310.6,1029.6 1386.8,1073.0 1456.6,1030.9 1380.5,988.7"/>
<polygon fill="url(#a54l)" points="1203.4,1095.3 1279.5,1140.7 1277.7,1210.2 1202.3,1164.2"/>
<polygon fill="url(#a54r)" points="1279.5,1140.7 1352.4,1096.7 1349.8,1165.7 1277.7,1210.2"/>
<polygon fill="#cfc57d" points="1203.4,1095.3 1279.5,1140.7 1352.4,1096.7 1276.2,1052.7"/>
<polygon fill="url(#a53l)" points="1091.5,1161.5 1167.5,1209.0 1166.8,1278.6 1091.6,1230.5"/>
<polygon fill="url(#a53r)" points="1167.5,1209.0 1243.7,1163.0 1242.2,1232.1 1166.8,1278.6"/>
<polygon fill="#90c0a9" points="1091.5,1161.5 1167.5,1209.0 1243.7,1163.0 1167.6,1117.0"/>
<polygon fill="url(#a52l)" points="972.4,1109.3 1049.6,1157.8 1051.0,1350.1 975.9,1299.8"/>
<polygon fill="url(#a52r)" points="1049.6,1157.8 1130.7,1110.8 1129.8,1301.4 1051.0,1350.1"/>
<polygon fill="#9fb5c1" points="972.4,1109.3 1049.6,1157.8 1130.7,1110.8 1053.4,1063.7"/>
<polygon fill="url(#a51l)" points="851.7,1283.5 927.4,1335.4 929.7,1424.9 855.0,1372.2"/>
<polygon fill="url(#a51r)" points="927.4,1335.4 1011.0,1285.2 1012.2,1374.0 929.7,1424.9"/>
<polygon fill="#9199c0" points="851.7,1283.5 927.4,1335.4 1011.0,1285.2 935.1,1234.9"/>
<polygon fill="url(#a66l)" points="1544.5,747.8 1627.8,788.5 1601.3,1146.8 1522.5,1102.7"/>
<polygon fill="url(#a66r)" points="1627.8,788.5 1697.0,748.8 1667.4,1104.1 1601.3,1146.8"/>
<polygon fill="#d5b9a9" points="1544.5,747.8 1627.8,788.5 1697.0,748.8 1613.9,709.3"/>
<polygon fill="url(#a65l)" points="1425.9,1060.8 1506.1,1106.0 1499.7,1212.4 1420.8,1166.4"/>
<polygon fill="url(#a65r)" points="1506.1,1106.0 1576.1,1062.2 1568.8,1167.8 1499.7,1212.4"/>
<polygon fill="#d5b98a" points="1425.9,1060.8 1506.1,1106.0 1576.1,1062.2 1496.0,1018.4"/>
<polygon fill="url(#a64l)" points="1317.9,1134.5 1398.0,1181.8 1393.6,1281.0 1314.7,1232.8"/>
<polygon fill="url(#a64r)" points="1398.0,1181.8 1471.2,1136.0 1465.8,1234.4 1393.6,1281.0"/>
<polygon fill="#cfc57d" points="1317.9,1134.5 1398.0,1181.8 1471.2,1136.0 1391.1,1090.1"/>
<polygon fill="url(#a63l)" points="1205.9,1173.7 1286.4,1222.9 1282.7,1352.6 1203.8,1302.2"/>
<polygon fill="url(#a63r)" points="1286.4,1222.9 1363.2,1175.2 1358.2,1303.9 1282.7,1352.6"/>
<polygon fill="#90c0a9" points="1205.9,1173.7 1286.4,1222.9 1363.2,1175.2 1282.7,1127.5"/>
<polygon fill="url(#a62l)" points="1087.9,1352.5 1166.9,1405.1 1166.7,1427.6 1087.9,1374.8"/>
<polygon fill="url(#a62r)" points="1166.9,1405.1 1246.1,1354.2 1245.6,1376.6 1166.7,1427.6"/>
<polygon fill="#9fb5c1" points="1087.9,1352.5 1166.9,1405.1 1246.1,1354.2 1167.0,1303.3"/>
<polygon fill="url(#a61l)" points="964.9,1370.5 1044.5,1425.2 1045.1,1506.2 966.6,1450.8"/>
<polygon fill="url(#a61r)" points="1044.5,1425.2 1128.2,1372.4 1127.8,1452.7 1045.1,1506.2"/>
<polygon fill="#9199c0" points="964.9,1370.5 1044.5,1425.2 1128.2,1372.4 1048.5,1319.5"/>
</g>
<g fill="none" stroke="#231a1b" stroke-width="7.6" stroke-linecap="butt" stroke-linejoin="miter">
<polyline points="343.6,276.2 423.9,1092.3 1044.1,1533.0 1702.3,1104.4"/>
<line x1="423.9" y1="1092.3" x2="404.9" y2="1098.6"/>
<line x1="405.4" y1="905.0" x2="384.9" y2="911.8"/>
<line x1="386.0" y1="707.2" x2="364.0" y2="714.5"/>
<line x1="365.4" y1="497.9" x2="341.9" y2="505.7"/>
<line x1="343.6" y1="276.2" x2="318.6" y2="284.5"/>
<line x1="469.2" y1="1124.5" x2="451.7" y2="1135.7"/>
<line x1="1106.1" y1="1492.6" x2="1123.6" y2="1505.6"/>
<line x1="562.9" y1="1191.1" x2="544.3" y2="1203.0"/>
<line x1="1225.8" y1="1414.7" x2="1243.3" y2="1427.7"/>
<line x1="661.0" y1="1260.8" x2="641.3" y2="1273.4"/>
<line x1="1340.1" y1="1340.3" x2="1357.6" y2="1353.3"/>
<line x1="763.9" y1="1333.9" x2="743.1" y2="1347.2"/>
<line x1="1449.3" y1="1269.1" x2="1466.8" y2="1282.1"/>
<line x1="871.9" y1="1410.6" x2="850.0" y2="1424.6"/>
<line x1="1553.8" y1="1201.1" x2="1571.3" y2="1214.1"/>
<line x1="985.3" y1="1491.2" x2="962.3" y2="1505.9"/>
<line x1="1653.9" y1="1135.9" x2="1671.4" y2="1148.9"/>
</g>
<g fill="none" stroke="#a4a4a4" stroke-width="2.6">
<polyline points="2171.9,272.6 2898.6,9.2 3603.3,278.2 3530.6,1100.8"/>
<line x1="2898.6" y1="9.2" x2="2901.2" y2="759.7"/>
</g>
<g fill="none" stroke="#dadada" stroke-width="3">
<polyline points="2252.2,1088.7 2901.2,759.7 3530.6,1100.8"/>
</g>
<path fill="none" stroke="#a3a3a3" stroke-width="3" d="M2242.4,273.1 L2244.4,295.1 M2245.9,312.6 L2247.9,334.4 M2249.4,351.7 L2251.3,373.2 M2252.8,390.4 L2254.7,411.7 M2256.3,428.6 L2258.1,449.7 M2259.6,466.5 L2261.5,487.4 M2263.0,504.0 L2264.8,524.7 M2266.3,541.2 L2268.1,561.7 M2269.6,578.0 L2271.4,598.2 M2272.8,614.4 L2274.6,634.4 M2276.0,650.4 L2277.8,670.3 M2279.2,686.1 L2281.0,705.8 M2282.4,721.5 L2284.1,740.9 M2285.5,756.5 L2287.2,775.8 M2288.6,791.1 L2290.3,810.2 M2291.6,825.5 L2293.3,844.4 M2294.7,859.5 L2296.3,878.2 M2297.7,893.2 L2299.3,911.7 M2300.6,926.5 L2302.3,944.9 M2303.6,959.6 L2305.2,977.8 M2306.5,992.3 L2308.1,1010.4 M2309.4,1024.7 L2311.0,1042.6 M2312.3,1056.9 L2312.4,1058.2 M2950.1,52.2 L2950.1,72.5 M2950.0,88.7 L2949.9,108.8 M2949.9,124.8 L2949.8,144.8 M2949.8,160.6 L2949.7,180.4 M2949.7,196.1 L2949.6,215.7 M2949.6,231.3 L2949.5,250.7 M2949.5,266.2 L2949.4,285.4 M2949.4,300.7 L2949.3,319.7 M2949.3,334.9 L2949.2,353.8 M2949.1,368.8 L2949.1,387.5 M2949.0,402.5 L2949.0,421.0 M2948.9,435.8 L2948.9,454.2 M2948.8,468.8 L2948.8,487.0 M2948.7,501.5 L2948.7,519.6 M2948.6,534.0 L2948.6,551.9 M2948.5,566.2 L2948.5,583.9 M2948.4,598.1 L2948.4,615.7 M2948.4,629.7 L2948.3,647.1 M2948.3,661.0 L2948.2,678.3 M2948.2,692.1 L2948.1,709.3 M2948.1,722.9 L2948.0,739.9 M2948.0,753.5 L2947.9,770.3 M2947.9,783.8 L2947.9,785.0 M2373.7,224.9 L2375.3,246.6 M2376.5,263.8 L2378.1,285.2 M2379.3,302.2 L2380.8,323.4 M2382.0,340.3 L2383.5,361.3 M2384.7,378.0 L2386.2,398.8 M2387.4,415.3 L2388.8,435.9 M2390.0,452.2 L2391.5,472.6 M2392.6,488.8 L2394.1,509.0 M2395.2,525.1 L2396.7,545.0 M2397.8,560.9 L2399.2,580.7 M2400.3,596.5 L2401.7,616.1 M2402.9,631.7 L2404.2,651.1 M2405.3,666.5 L2406.7,685.8 M2407.8,701.1 L2409.2,720.1 M2410.3,735.3 L2411.6,754.1 M2412.7,769.2 L2414.0,787.8 M2415.1,802.7 L2416.4,821.2 M2417.5,836.0 L2418.8,854.3 M2419.8,868.9 L2421.1,887.1 M2422.2,901.6 L2423.5,919.6 M2424.5,933.9 L2425.8,951.7 M2426.8,966.0 L2428.0,983.6 M2429.0,997.7 L2429.1,999.0 M3056.5,93.4 L3056.2,114.0 M3055.9,130.5 L3055.5,150.9 M3055.3,167.2 L3054.9,187.5 M3054.7,203.6 L3054.3,223.7 M3054.1,239.7 L3053.7,259.6 M3053.5,275.4 L3053.1,295.1 M3052.9,310.8 L3052.6,330.4 M3052.3,345.9 L3052.0,365.3 M3051.7,380.7 L3051.4,399.8 M3051.1,415.1 L3050.8,434.1 M3050.6,449.2 L3050.3,468.1 M3050.0,483.1 L3049.7,501.7 M3049.5,516.6 L3049.2,535.1 M3048.9,549.8 L3048.6,568.1 M3048.4,582.7 L3048.1,600.9 M3047.8,615.4 L3047.5,633.4 M3047.3,647.7 L3047.0,665.5 M3046.7,679.8 L3046.5,697.5 M3046.2,711.5 L3045.9,729.1 M3045.7,743.0 L3045.4,760.4 M3045.2,774.3 L3044.9,791.5 M3044.7,805.2 L3044.4,822.3 M3044.2,835.9 L3044.1,837.2 M2499.3,178.8 L2500.5,200.1 M2501.4,217.1 L2502.6,238.1 M2503.5,254.9 L2504.7,275.8 M2505.6,292.4 L2506.7,313.0 M2507.6,329.5 L2508.7,350.0 M2509.6,366.2 L2510.8,386.5 M2511.6,402.6 L2512.7,422.7 M2513.6,438.7 L2514.7,458.6 M2515.6,474.4 L2516.7,494.1 M2517.5,509.8 L2518.6,529.3 M2519.5,544.8 L2520.5,564.1 M2521.4,579.5 L2522.4,598.7 M2523.2,613.9 L2524.3,632.9 M2525.1,648.0 L2526.2,666.8 M2527.0,681.7 L2528.0,700.3 M2528.8,715.2 L2529.8,733.6 M2530.6,748.3 L2531.6,766.6 M2532.4,781.1 L2533.4,799.2 M2534.2,813.6 L2535.2,831.6 M2536.0,845.9 L2537.0,863.7 M2537.8,877.8 L2538.7,895.5 M2539.5,909.5 L2540.5,927.0 M2541.2,940.9 L2541.3,942.1 M3167.8,136.4 L3167.1,157.4 M3166.6,174.1 L3166.0,194.9 M3165.4,211.5 L3164.8,232.1 M3164.3,248.5 L3163.7,269.0 M3163.2,285.2 L3162.5,305.4 M3162.0,321.5 L3161.4,341.6 M3160.9,357.5 L3160.3,377.3 M3159.8,393.1 L3159.2,412.8 M3158.7,428.5 L3158.1,447.9 M3157.6,463.4 L3157.0,482.7 M3156.6,498.1 L3156.0,517.2 M3155.5,532.4 L3154.9,551.4 M3154.5,566.4 L3153.9,585.2 M3153.4,600.2 L3152.8,618.7 M3152.4,633.6 L3151.8,652.0 M3151.3,666.7 L3150.8,684.9 M3150.3,699.5 L3149.8,717.6 M3149.3,732.0 L3148.8,749.9 M3148.3,764.2 L3147.8,782.0 M3147.3,796.1 L3146.8,813.7 M3146.4,827.8 L3145.8,845.2 M3145.4,859.1 L3144.9,876.4 M3144.4,890.2 L3144.4,891.5 M2619.5,134.7 L2620.4,155.7 M2621.0,172.3 L2621.8,193.1 M2622.5,209.6 L2623.3,230.1 M2623.9,246.5 L2624.7,266.8 M2625.4,283.0 L2626.2,303.2 M2626.8,319.3 L2627.6,339.2 M2628.2,355.1 L2629.0,374.9 M2629.6,390.6 L2630.4,410.2 M2631.0,425.8 L2631.7,445.2 M2632.3,460.7 L2633.1,479.9 M2633.7,495.3 L2634.4,514.3 M2635.0,529.5 L2635.8,548.4 M2636.4,563.4 L2637.1,582.1 M2637.7,597.0 L2638.4,615.5 M2639.0,630.3 L2639.7,648.7 M2640.3,663.3 L2641.0,681.5 M2641.6,696.0 L2642.3,714.1 M2642.8,728.4 L2643.6,746.3 M2644.1,760.6 L2644.8,778.3 M2645.4,792.4 L2646.0,810.0 M2646.6,823.9 L2647.3,841.4 M2647.8,855.2 L2648.5,872.5 M2649.0,886.2 L2649.1,887.5 M3284.3,181.4 L3283.3,202.8 M3282.5,219.9 L3281.5,241.0 M3280.7,257.9 L3279.8,278.8 M3279.0,295.5 L3278.1,316.3 M3277.3,332.8 L3276.3,353.4 M3275.6,369.7 L3274.6,390.1 M3273.9,406.3 L3273.0,426.5 M3272.2,442.5 L3271.3,462.5 M3270.6,478.4 L3269.7,498.2 M3268.9,513.9 L3268.0,533.5 M3267.3,549.1 L3266.4,568.5 M3265.7,584.0 L3264.8,603.2 M3264.1,618.5 L3263.2,637.6 M3262.5,652.7 L3261.7,671.6 M3261.0,686.6 L3260.1,705.3 M3259.4,720.2 L3258.6,738.7 M3257.9,753.5 L3257.0,771.8 M3256.4,786.4 L3255.5,804.6 M3254.8,819.1 L3254.0,837.1 M3253.4,851.5 L3252.5,869.3 M3251.9,883.5 L3251.1,901.2 M3250.4,915.3 L3249.6,932.9 M3248.9,946.8 L3248.9,948.1 M2734.7,92.5 L2735.2,113.1 M2735.6,129.5 L2736.1,149.9 M2736.5,166.2 L2737.0,186.4 M2737.4,202.5 L2737.9,222.6 M2738.3,238.5 L2738.8,258.4 M2739.1,274.2 L2739.6,293.9 M2740.0,309.5 L2740.5,329.0 M2740.9,344.5 L2741.3,363.8 M2741.7,379.2 L2742.2,398.4 M2742.5,413.6 L2743.0,432.6 M2743.4,447.7 L2743.8,466.5 M2744.2,481.4 L2744.6,500.1 M2745.0,514.9 L2745.5,533.4 M2745.8,548.1 L2746.3,566.3 M2746.6,580.9 L2747.1,599.1 M2747.4,613.5 L2747.8,631.5 M2748.2,645.8 L2748.6,663.6 M2749.0,677.8 L2749.4,695.4 M2749.7,709.5 L2750.2,727.0 M2750.5,741.0 L2750.9,758.3 M2751.3,772.1 L2751.7,789.3 M2752.0,803.0 L2752.4,820.1 M2752.8,833.7 L2752.8,834.9 M3406.4,228.7 L3405.0,250.4 M3404.0,267.8 L3402.6,289.3 M3401.6,306.5 L3400.2,327.8 M3399.2,344.8 L3397.9,365.9 M3396.8,382.7 L3395.5,403.6 M3394.5,420.2 L3393.2,440.9 M3392.2,457.4 L3390.9,477.9 M3389.9,494.2 L3388.6,514.5 M3387.6,530.7 L3386.3,550.8 M3385.3,566.8 L3384.1,586.7 M3383.1,602.5 L3381.9,622.2 M3380.9,637.9 L3379.7,657.4 M3378.7,673.0 L3377.5,692.3 M3376.6,707.7 L3375.4,726.8 M3374.4,742.1 L3373.2,761.0 M3372.3,776.1 L3371.1,794.9 M3370.2,809.9 L3369.0,828.5 M3368.1,843.3 L3367.0,861.8 M3366.1,876.4 L3364.9,894.7 M3364.0,909.3 L3362.9,927.4 M3362.0,941.8 L3360.9,959.7 M3360.0,974.0 L3358.9,991.7 M3358.0,1005.9 L3357.9,1007.2 M2845.1,51.9 L2845.3,72.2 M2845.5,88.4 L2845.7,108.5 M2845.9,124.5 L2846.1,144.5 M2846.2,160.3 L2846.4,180.1 M2846.6,195.8 L2846.8,215.3 M2847.0,230.9 L2847.2,250.3 M2847.3,265.8 L2847.5,285.0 M2847.7,300.3 L2847.9,319.3 M2848.0,334.5 L2848.2,353.3 M2848.4,368.4 L2848.6,387.1 M2848.7,402.0 L2848.9,420.5 M2849.1,435.3 L2849.2,453.6 M2849.4,468.3 L2849.6,486.5 M2849.7,501.0 L2849.9,519.1 M2850.1,533.4 L2850.3,551.3 M2850.4,565.6 L2850.6,583.3 M2850.7,597.5 L2850.9,615.1 M2851.0,629.1 L2851.2,646.5 M2851.4,660.4 L2851.5,677.7 M2851.7,691.5 L2851.9,708.6 M2852.0,722.3 L2852.2,739.3 M2852.3,752.8 L2852.5,769.7 M2852.6,783.1 L2852.6,784.3 M3534.6,278.2 L3532.8,300.4 M3531.4,318.0 L3529.7,340.0 M3528.3,357.4 L3526.5,379.1 M3525.2,396.4 L3523.5,417.9 M3522.1,435.0 L3520.4,456.2 M3519.1,473.1 L3517.4,494.2 M3516.1,510.9 L3514.4,531.8 M3513.1,548.4 L3511.5,569.0 M3510.2,585.4 L3508.5,605.8 M3507.3,622.1 L3505.7,642.3 M3504.4,658.4 L3502.8,678.4 M3501.5,694.3 L3499.9,714.1 M3498.7,729.9 L3497.1,749.5 M3495.9,765.2 L3494.4,784.6 M3493.1,800.1 L3491.6,819.3 M3490.4,834.6 L3488.9,853.7 M3487.7,868.9 L3486.2,887.8 M3485.0,902.8 L3483.5,921.5 M3482.3,936.4 L3480.8,954.9 M3479.7,969.6 L3478.2,988.0 M3477.0,1002.6 L3475.6,1020.8 M3474.5,1035.2 L3473.0,1053.2 M3471.9,1067.6 L3471.8,1068.9 M2233.8,901.4 L2248.4,894.5 M2262.2,887.9 L2276.7,881.1 M2290.4,874.6 L2304.7,867.8 M2318.3,861.4 L2332.5,854.7 M2345.9,848.3 L2360.0,841.6 M2373.3,835.3 L2387.2,828.7 M2400.4,822.5 L2414.2,816.0 M2427.3,809.8 L2440.9,803.3 M2453.9,797.2 L2467.4,790.8 M2480.2,784.7 L2493.7,778.4 M2506.3,772.4 L2519.6,766.1 M2532.2,760.1 L2545.4,753.9 M2557.8,748.0 L2570.9,741.8 M2583.2,735.9 L2596.2,729.8 M2608.4,724.0 L2621.2,718.0 M2633.4,712.2 L2646.1,706.2 M2658.1,700.5 L2670.7,694.6 M2682.6,688.9 L2695.0,683.0 M2706.8,677.4 L2719.2,671.6 M2730.9,666.0 L2743.2,660.2 M2754.7,654.8 L2766.9,649.0 M2778.4,643.6 L2790.4,637.9 M2801.8,632.5 L2813.7,626.8 M2825.0,621.5 L2836.9,615.9 M2848.0,610.6 L2859.8,605.0 M2870.8,599.8 L2882.5,594.3 M2893.5,589.1 L2900.6,585.7 M2915.4,593.2 L2926.6,598.8 M2937.2,604.2 L2948.5,609.9 M2959.3,615.3 L2970.7,621.1 M2981.5,626.6 L2993.0,632.4 M3004.0,637.9 L3015.6,643.7 M3026.6,649.3 L3038.3,655.2 M3049.5,660.9 L3061.3,666.8 M3072.6,672.5 L3084.5,678.6 M3095.9,684.3 L3108.0,690.4 M3119.5,696.2 L3131.6,702.3 M3143.2,708.2 L3155.5,714.4 M3167.2,720.3 L3179.7,726.6 M3191.5,732.5 L3204.0,738.9 M3216.0,744.9 L3228.6,751.3 M3240.7,757.4 L3253.5,763.8 M3265.7,770.0 L3278.6,776.5 M3290.9,782.7 L3303.9,789.3 M3316.3,795.6 L3329.5,802.2 M3342.1,808.5 L3355.4,815.3 M3368.1,821.7 L3381.5,828.4 M3394.3,834.9 L3407.9,841.8 M3420.8,848.3 L3434.5,855.2 M3447.6,861.8 L3461.5,868.8 M3474.7,875.5 L3488.7,882.6 M3502.0,889.3 L3516.2,896.4 M3529.7,903.2 L3544.0,910.5 M2214.3,703.6 L2229.4,697.0 M2243.6,690.7 L2258.6,684.2 M2272.7,678.0 L2287.5,671.5 M2301.5,665.4 L2316.1,659.0 M2329.9,652.9 L2344.4,646.5 M2358.1,640.5 L2372.5,634.2 M2386.1,628.3 L2400.3,622.1 M2413.7,616.2 L2427.8,610.0 M2441.1,604.2 L2455.1,598.1 M2468.2,592.3 L2482.1,586.2 M2495.1,580.5 L2508.8,574.5 M2521.7,568.8 L2535.3,562.9 M2548.1,557.3 L2561.5,551.4 M2574.2,545.8 L2587.5,540.0 M2600.1,534.5 L2613.3,528.7 M2625.7,523.3 L2638.8,517.5 M2651.1,512.1 L2664.0,506.5 M2676.3,501.1 L2689.1,495.5 M2701.2,490.2 L2713.9,484.6 M2725.9,479.4 L2738.5,473.8 M2750.4,468.6 L2762.8,463.2 M2774.6,458.0 L2787.0,452.6 M2798.7,447.5 L2810.9,442.1 M2822.5,437.0 L2834.6,431.7 M2846.1,426.7 L2858.1,421.4 M2869.5,416.4 L2881.4,411.2 M2892.7,406.3 L2899.9,403.1 M2915.1,410.1 L2926.6,415.5 M2937.5,420.6 L2949.1,426.0 M2960.1,431.1 L2971.8,436.5 M2982.9,441.7 L2994.7,447.2 M3005.9,452.4 L3017.8,458.0 M3029.2,463.3 L3041.2,468.9 M3052.7,474.2 L3064.8,479.9 M3076.4,485.3 L3088.6,491.0 M3100.3,496.4 L3112.7,502.2 M3124.5,507.7 L3137.0,513.5 M3148.9,519.0 L3161.5,524.9 M3173.6,530.5 L3186.3,536.5 M3198.5,542.1 L3211.4,548.1 M3223.7,553.9 L3236.7,559.9 M3249.1,565.7 L3262.2,571.8 M3274.8,577.7 L3288.0,583.9 M3300.7,589.7 L3314.1,596.0 M3326.9,602.0 L3340.5,608.3 M3353.4,614.3 L3367.1,620.7 M3380.2,626.8 L3394.0,633.2 M3407.2,639.4 L3421.2,645.9 M3434.5,652.1 L3448.6,658.7 M3462.1,664.9 L3476.4,671.6 M3490.0,677.9 L3504.5,684.7 M3518.2,691.1 L3532.8,697.9 M3546.7,704.4 L3561.5,711.2 M2193.7,494.3 L2209.3,488.1 M2224.0,482.2 L2239.4,476.0 M2254.0,470.1 L2269.3,464.0 M2283.7,458.2 L2298.8,452.1 M2313.1,446.4 L2328.0,440.4 M2342.1,434.7 L2356.9,428.8 M2370.9,423.2 L2385.6,417.3 M2399.4,411.8 L2413.9,405.9 M2427.6,400.4 L2442.0,394.7 M2455.6,389.2 L2469.8,383.5 M2483.3,378.1 L2497.4,372.4 M2510.7,367.1 L2524.6,361.5 M2537.8,356.2 L2551.6,350.7 M2564.7,345.4 L2578.4,339.9 M2591.3,334.7 L2604.8,329.3 M2617.6,324.2 L2631.1,318.8 M2643.8,313.7 L2657.1,308.3 M2669.6,303.3 L2682.8,298.0 M2695.2,293.0 L2708.3,287.8 M2720.6,282.8 L2733.5,277.6 M2745.8,272.7 L2758.6,267.6 M2770.7,262.7 L2783.4,257.7 M2795.3,252.8 L2807.9,247.8 M2819.8,243.0 L2832.3,238.0 M2844.0,233.3 L2856.4,228.4 M2868.0,223.7 L2880.3,218.8 M2891.8,214.1 L2899.3,211.1 M2914.9,217.7 L2926.6,222.7 M2937.8,227.5 L2949.7,232.5 M2961.0,237.3 L2973.0,242.4 M2984.4,247.3 L2996.5,252.4 M3008.0,257.3 L3020.2,262.5 M3031.9,267.5 L3044.2,272.7 M3056.0,277.7 L3068.5,283.0 M3080.4,288.1 L3092.9,293.4 M3105.0,298.5 L3117.7,303.9 M3129.8,309.1 L3142.7,314.5 M3154.9,319.7 L3167.9,325.3 M3180.3,330.5 L3193.4,336.1 M3205.9,341.4 L3219.1,347.0 M3231.8,352.4 L3245.2,358.1 M3257.9,363.5 L3271.5,369.3 M3284.4,374.8 L3298.0,380.6 M3311.1,386.1 L3324.9,392.0 M3338.1,397.6 L3352.0,403.5 M3365.4,409.2 L3379.5,415.2 M3392.9,420.9 L3407.2,426.9 M3420.8,432.7 L3435.2,438.9 M3449.0,444.7 L3463.6,450.9 M3477.5,456.8 L3492.2,463.1 M3506.2,469.0 L3521.1,475.4 M3535.4,481.4 L3550.4,487.8 M3564.8,493.9 L3580.0,500.4"/>
<g stroke="#2b2224" stroke-width="5.6" stroke-linejoin="round">
<polygon fill="url(#b16l)" points="2831.7,603.0 2897.2,636.8 2898.0,845.3 2834.4,809.6"/>
<polygon fill="url(#b16r)" points="2897.2,636.8 2965.4,603.8 2964.3,810.6 2898.0,845.3"/>
<polygon fill="#d5b9a9" points="2831.7,603.0 2897.2,636.8 2965.4,603.8 2899.8,570.9"/>
<polygon fill="url(#b15l)" points="2732.1,822.0 2795.9,858.7 2796.6,898.3 2733.2,861.2"/>
<polygon fill="url(#b15r)" points="2795.9,858.7 2865.2,823.0 2865.5,862.3 2796.6,898.3"/>
<polygon fill="#d5b98a" points="2732.1,822.0 2795.9,858.7 2865.2,823.0 2801.3,787.3"/>
<polygon fill="url(#b14l)" points="2624.0,817.7 2688.0,855.4 2691.3,953.4 2628.1,914.8"/>
<polygon fill="url(#b14r)" points="2688.0,855.4 2760.6,818.8 2762.9,915.9 2691.3,953.4"/>
<polygon fill="#cfc57d" points="2624.0,817.7 2688.0,855.4 2760.6,818.8 2696.4,782.1"/>
<polygon fill="url(#b13l)" points="2514.7,900.8 2578.1,940.3 2581.6,1010.7 2518.8,970.6"/>
<polygon fill="url(#b13r)" points="2578.1,940.3 2653.4,901.9 2656.1,971.8 2581.6,1010.7"/>
<polygon fill="#90c0a9" points="2514.7,900.8 2578.1,940.3 2653.4,901.9 2589.8,863.5"/>
<polygon fill="url(#b12l)" points="2397.4,927.7 2460.6,968.6 2467.4,1070.5 2405.0,1028.6"/>
<polygon fill="url(#b12r)" points="2460.6,968.6 2539.5,928.8 2545.1,1029.9 2467.4,1070.5"/>
<polygon fill="#9fb5c1" points="2397.4,927.7 2460.6,968.6 2539.5,928.8 2475.9,889.0"/>
<polygon fill="url(#b11l)" points="2280.9,1029.4 2343.3,1072.6 2348.4,1132.7 2286.5,1089.0"/>
<polygon fill="url(#b11r)" points="2343.3,1072.6 2425.0,1030.7 2429.3,1090.4 2348.4,1132.7"/>
<polygon fill="#9199c0" points="2280.9,1029.4 2343.3,1072.6 2425.0,1030.7 2362.2,988.8"/>
<polygon fill="url(#b26l)" points="2929.3,683.5 2997.2,719.0 2995.4,899.9 2929.2,862.8"/>
<polygon fill="url(#b26r)" points="2997.2,719.0 3065.3,684.4 3061.8,863.8 2995.4,899.9"/>
<polygon fill="#d5b9a9" points="2929.3,683.5 2997.2,719.0 3065.3,684.4 2997.2,649.8"/>
<polygon fill="url(#b25l)" points="2826.6,830.1 2893.5,868.0 2893.9,955.1 2827.8,916.5"/>
<polygon fill="url(#b25r)" points="2893.5,868.0 2963.4,831.2 2962.9,917.6 2893.9,955.1"/>
<polygon fill="#d5b98a" points="2826.6,830.1 2893.5,868.0 2963.4,831.2 2896.3,794.3"/>
<polygon fill="url(#b24l)" points="2718.7,851.2 2785.8,890.3 2788.2,1012.6 2722.3,972.3"/>
<polygon fill="url(#b24r)" points="2785.8,890.3 2858.9,852.2 2860.0,973.5 2788.2,1012.6"/>
<polygon fill="#cfc57d" points="2718.7,851.2 2785.8,890.3 2858.9,852.2 2791.7,814.2"/>
<polygon fill="url(#b23l)" points="2610.4,985.4 2676.5,1027.0 2678.1,1072.4 2612.5,1030.5"/>
<polygon fill="url(#b23r)" points="2676.5,1027.0 2751.8,986.7 2753.0,1031.7 2678.1,1072.4"/>
<polygon fill="#90c0a9" points="2610.4,985.4 2676.5,1027.0 2751.8,986.7 2685.6,946.3"/>
<polygon fill="url(#b22l)" points="2491.7,987.2 2557.8,1030.1 2563.4,1134.8 2498.1,1091.0"/>
<polygon fill="url(#b22r)" points="2557.8,1030.1 2637.1,988.5 2641.4,1092.4 2563.4,1134.8"/>
<polygon fill="#9fb5c1" points="2491.7,987.2 2557.8,1030.1 2637.1,988.5 2570.6,946.9"/>
<polygon fill="url(#b21l)" points="2377.4,1134.9 2442.4,1180.4 2443.8,1199.8 2378.9,1154.2"/>
<polygon fill="url(#b21r)" points="2442.4,1180.4 2524.0,1136.3 2525.1,1155.6 2443.8,1199.8"/>
<polygon fill="#9199c0" points="2377.4,1134.9 2442.4,1180.4 2524.0,1136.3 2458.7,1092.1"/>
<polygon fill="url(#b36l)" points="3031.0,708.1 3102.2,744.9 3097.1,956.8 3028.0,918.1"/>
<polygon fill="url(#b36r)" points="3102.2,744.9 3170.6,709.1 3163.5,919.2 3097.1,956.8"/>
<polygon fill="#d5b9a9" points="3031.0,708.1 3102.2,744.9 3170.6,709.1 3099.3,673.3"/>
<polygon fill="url(#b35l)" points="2926.4,882.2 2996.3,921.7 2995.3,1014.4 2926.4,974.1"/>
<polygon fill="url(#b35r)" points="2996.3,921.7 3066.3,883.3 3064.5,975.3 2995.3,1014.4"/>
<polygon fill="#d5b98a" points="2926.4,882.2 2996.3,921.7 3066.3,883.3 2996.3,844.9"/>
<polygon fill="url(#b34l)" points="2819.0,929.7 2888.9,970.8 2889.4,1074.4 2820.6,1032.3"/>
<polygon fill="url(#b34r)" points="2888.9,970.8 2962.0,930.9 2961.4,1033.6 2889.4,1074.4"/>
<polygon fill="#cfc57d" points="2819.0,929.7 2888.9,970.8 2962.0,930.9 2892.0,890.9"/>
<polygon fill="url(#b33l)" points="2709.2,1054.1 2778.2,1097.6 2779.0,1136.9 2710.4,1093.0"/>
<polygon fill="url(#b33r)" points="2778.2,1097.6 2853.7,1055.4 2854.1,1094.4 2779.0,1136.9"/>
<polygon fill="#90c0a9" points="2709.2,1054.1 2778.2,1097.6 2853.7,1055.4 2784.5,1013.1"/>
<polygon fill="url(#b32l)" points="2590.7,1056.5 2659.9,1101.3 2663.8,1202.1 2595.5,1156.3"/>
<polygon fill="url(#b32r)" points="2659.9,1101.3 2739.5,1057.8 2742.2,1157.7 2663.8,1202.1"/>
<polygon fill="#9fb5c1" points="2590.7,1056.5 2659.9,1101.3 2739.5,1057.8 2670.0,1014.3"/>
<polygon fill="url(#b31l)" points="2472.9,1181.7 2541.2,1229.1 2543.6,1270.2 2475.7,1222.3"/>
<polygon fill="url(#b31r)" points="2541.2,1229.1 2623.5,1183.2 2625.4,1223.9 2543.6,1270.2"/>
<polygon fill="#9199c0" points="2472.9,1181.7 2541.2,1229.1 2623.5,1183.2 2555.0,1137.1"/>
<polygon fill="url(#b46l)" points="3135.2,832.1 3208.9,871.2 3203.1,1016.3 3131.0,975.8"/>
<polygon fill="url(#b46r)" points="3208.9,871.2 3276.6,833.2 3269.5,977.0 3203.1,1016.3"/>
<polygon fill="#d5b9a9" points="3135.2,832.1 3208.9,871.2 3276.6,833.2 3202.9,795.2"/>
<polygon fill="url(#b45l)" points="3031.1,910.5 3104.5,951.5 3101.3,1076.3 3029.2,1034.2"/>
<polygon fill="url(#b45r)" points="3104.5,951.5 3174.9,911.7 3170.5,1035.5 3101.3,1076.3"/>
<polygon fill="#d5b98a" points="3031.1,910.5 3104.5,951.5 3174.9,911.7 3101.4,871.9"/>
<polygon fill="url(#b44l)" points="2923.2,1016.6 2996.0,1059.8 2995.2,1139.0 2923.3,1095.0"/>
<polygon fill="url(#b44r)" points="2996.0,1059.8 3069.0,1017.9 3067.4,1096.4 2995.2,1139.0"/>
<polygon fill="#cfc57d" points="2923.2,1016.6 2996.0,1059.8 3069.0,1017.9 2996.1,975.9"/>
<polygon fill="url(#b43l)" points="2811.8,1100.9 2884.2,1146.3 2884.6,1204.3 2812.8,1158.4"/>
<polygon fill="url(#b43r)" points="2884.2,1146.3 2960.1,1102.3 2959.8,1159.9 2884.6,1204.3"/>
<polygon fill="#90c0a9" points="2811.8,1100.9 2884.2,1146.3 2960.1,1102.3 2887.6,1058.3"/>
<polygon fill="url(#b42l)" points="2692.2,1069.7 2765.3,1116.3 2769.0,1272.6 2697.5,1224.6"/>
<polygon fill="url(#b42r)" points="2765.3,1116.3 2845.8,1071.2 2847.6,1226.1 2769.0,1272.6"/>
<polygon fill="#9fb5c1" points="2692.2,1069.7 2765.3,1116.3 2845.8,1071.2 2772.5,1026.0"/>
<polygon fill="url(#b41l)" points="2574.8,1252.5 2646.5,1302.3 2648.2,1343.9 2577.0,1293.7"/>
<polygon fill="url(#b41r)" points="2646.5,1302.3 2729.2,1254.1 2730.4,1295.4 2648.2,1343.9"/>
<polygon fill="#9199c0" points="2574.8,1252.5 2646.5,1302.3 2729.2,1254.1 2657.3,1205.8"/>
<polygon fill="url(#b56l)" points="3247.4,839.5 3325.0,879.9 3313.8,1078.3 3238.5,1036.1"/>
<polygon fill="url(#b56r)" points="3325.0,879.9 3393.1,840.6 3380.1,1037.4 3313.8,1078.3"/>
<polygon fill="#d5b9a9" points="3247.4,839.5 3325.0,879.9 3393.1,840.6 3315.5,801.4"/>
<polygon fill="url(#b55l)" points="3139.9,993.7 3216.5,1036.8 3212.1,1141.1 3136.7,1097.0"/>
<polygon fill="url(#b55r)" points="3216.5,1036.8 3286.6,994.9 3281.2,1098.4 3212.1,1141.1"/>
<polygon fill="#d5b98a" points="3139.9,993.7 3216.5,1036.8 3286.6,994.9 3210.1,953.1"/>
<polygon fill="url(#b54l)" points="3032.8,1019.8 3109.8,1064.5 3106.0,1206.6 3030.6,1160.6"/>
<polygon fill="url(#b54r)" points="3109.8,1064.5 3183.4,1021.2 3178.1,1162.0 3106.0,1206.6"/>
<polygon fill="#cfc57d" points="3032.8,1019.8 3109.8,1064.5 3183.4,1021.2 3106.4,977.8"/>
<polygon fill="url(#b53l)" points="2919.9,1206.6 2995.3,1254.5 2995.1,1275.0 2919.9,1226.9"/>
<polygon fill="url(#b53r)" points="2995.3,1254.5 3070.9,1208.1 3070.5,1228.4 2995.1,1275.0"/>
<polygon fill="#90c0a9" points="2919.9,1206.6 2995.3,1254.5 3070.9,1208.1 2995.4,1161.6"/>
<polygon fill="url(#b52l)" points="2802.1,1180.3 2878.4,1229.6 2879.3,1346.5 2804.2,1296.2"/>
<polygon fill="url(#b52r)" points="2878.4,1229.6 2958.6,1181.9 2958.1,1297.8 2879.3,1346.5"/>
<polygon fill="#9fb5c1" points="2802.1,1180.3 2878.4,1229.6 2958.6,1181.9 2882.2,1134.2"/>
<polygon fill="url(#b51l)" points="2681.3,1313.6 2756.6,1365.8 2758.0,1421.3 2683.3,1368.6"/>
<polygon fill="url(#b51r)" points="2756.6,1365.8 2839.8,1315.3 2840.5,1370.4 2758.0,1421.3"/>
<polygon fill="#9199c0" points="2681.3,1313.6 2756.6,1365.8 2839.8,1315.3 2764.2,1264.8"/>
<polygon fill="url(#b66l)" points="3364.7,874.8 3446.3,916.9 3429.6,1143.2 3350.8,1099.1"/>
<polygon fill="url(#b66r)" points="3446.3,916.9 3514.4,876.0 3495.7,1100.4 3429.6,1143.2"/>
<polygon fill="#d5b9a9" points="3364.7,874.8 3446.3,916.9 3514.4,876.0 3433.0,835.2"/>
<polygon fill="url(#b65l)" points="3253.8,1064.8 3333.9,1110.1 3328.0,1208.8 3249.1,1162.7"/>
<polygon fill="url(#b65r)" points="3333.9,1110.1 3403.9,1066.2 3397.1,1164.2 3328.0,1208.8"/>
<polygon fill="#d5b98a" points="3253.8,1064.8 3333.9,1110.1 3403.9,1066.2 3323.9,1022.4"/>
<polygon fill="url(#b64l)" points="3146.7,1115.4 3227.0,1162.5 3221.9,1277.4 3143.0,1229.2"/>
<polygon fill="url(#b64r)" points="3227.0,1162.5 3300.3,1116.9 3294.1,1230.8 3221.9,1277.4"/>
<polygon fill="#cfc57d" points="3146.7,1115.4 3227.0,1162.5 3300.3,1116.9 3220.0,1071.1"/>
<polygon fill="url(#b63l)" points="3032.9,1249.6 3112.4,1299.6 3111.0,1349.0 3032.2,1298.6"/>
<polygon fill="url(#b63r)" points="3112.4,1299.6 3188.4,1251.3 3186.5,1300.3 3111.0,1349.0"/>
<polygon fill="#90c0a9" points="3032.9,1249.6 3112.4,1299.6 3188.4,1251.3 3108.9,1202.8"/>
<polygon fill="url(#b62l)" points="2916.1,1281.6 2996.0,1333.6 2995.0,1424.0 2916.2,1371.2"/>
<polygon fill="url(#b62r)" points="2996.0,1333.6 3076.0,1283.3 3073.9,1373.0 2995.0,1424.0"/>
<polygon fill="#9fb5c1" points="2916.1,1281.6 2996.0,1333.6 3076.0,1283.3 2996.0,1232.9"/>
<polygon fill="url(#b61l)" points="2793.9,1397.1 2873.0,1452.0 2873.4,1502.6 2794.9,1447.2"/>
<polygon fill="url(#b61r)" points="2873.0,1452.0 2956.4,1398.9 2956.2,1449.1 2873.4,1502.6"/>
<polygon fill="#9199c0" points="2793.9,1397.1 2873.0,1452.0 2956.4,1398.9 2877.1,1345.8"/>
</g>
<g fill="none" stroke="#231a1b" stroke-width="7.6" stroke-linecap="butt" stroke-linejoin="miter">
<polyline points="2171.9,272.6 2252.2,1088.7 2872.4,1529.4 3530.6,1100.8"/>
<line x1="2252.2" y1="1088.7" x2="2233.2" y2="1095.0"/>
<line x1="2233.8" y1="901.4" x2="2213.3" y2="908.2"/>
<line x1="2214.3" y1="703.6" x2="2192.3" y2="710.8"/>
<line x1="2193.7" y1="494.3" x2="2170.2" y2="502.1"/>
<line x1="2171.9" y1="272.6" x2="2146.9" y2="280.8"/>
<line x1="2297.5" y1="1120.9" x2="2280.0" y2="1132.1"/>
<line x1="2934.4" y1="1489.0" x2="2951.9" y2="1502.0"/>
<line x1="2391.2" y1="1187.5" x2="2372.6" y2="1199.4"/>
<line x1="3054.1" y1="1411.1" x2="3071.6" y2="1424.1"/>
<line x1="2489.4" y1="1257.2" x2="2469.7" y2="1269.8"/>
<line x1="3168.4" y1="1336.6" x2="3185.9" y2="1349.6"/>
<line x1="2592.2" y1="1330.3" x2="2571.4" y2="1343.6"/>
<line x1="3277.6" y1="1265.5" x2="3295.1" y2="1278.5"/>
<line x1="2700.2" y1="1407.0" x2="2678.3" y2="1421.0"/>
<line x1="3382.1" y1="1197.5" x2="3399.6" y2="1210.5"/>
<line x1="2813.6" y1="1487.5" x2="2790.6" y2="1502.3"/>
<line x1="3482.2" y1="1132.3" x2="3499.7" y2="1145.3"/>
</g>
</g>
<text font-size="62" text-anchor="middle" transform="translate(254.6,297.0) rotate(-8.0)" y="20.5">0.18</text>
<text font-size="62" text-anchor="middle" transform="translate(274.6,512.5) rotate(-8.0)" y="20.5">0.16</text>
<text font-size="62" text-anchor="middle" transform="translate(298.6,733.3) rotate(-8.0)" y="20.5">0.15</text>
<text font-size="62" text-anchor="middle" transform="translate(319.5,928.0) rotate(-8.0)" y="20.5">0.13</text>
<text font-size="62" text-anchor="middle" transform="translate(345.7,1113.0) rotate(-14.0)" y="20.5">0.12</text>
<text font-size="62" text-anchor="middle" transform="translate(165.6,725.4) rotate(-99.0)" y="20.5">MAE</text>
<text font-size="62" text-anchor="middle" transform="translate(393.2,1175.6) rotate(-31.0)" y="20.5">M1</text>
<text font-size="62" text-anchor="middle" transform="translate(486.0,1237.7) rotate(-31.0)" y="20.5">M2</text>
<text font-size="62" text-anchor="middle" transform="translate(588.0,1304.2) rotate(-31.0)" y="20.5">M3</text>
<text font-size="62" text-anchor="middle" transform="translate(680.3,1376.0) rotate(-31.0)" y="20.5">M4</text>
<text font-size="62" text-anchor="middle" transform="translate(794.8,1459.6) rotate(-31.0)" y="20.5">M5</text>
<text font-size="62" text-anchor="middle" transform="translate(905.0,1540.0) rotate(-31.0)" y="20.5">M6</text>
<text font-size="62" text-anchor="middle" transform="translate(566.0,1427.5) rotate(40.0)" y="20.5">Model</text>
<text font-size="62" text-anchor="middle" transform="translate(1183.8,1565.0) rotate(48.0)" y="20.5">D1</text>
<text font-size="62" text-anchor="middle" transform="translate(1303.6,1472.0) rotate(48.0)" y="20.5">D2</text>
<text font-size="62" text-anchor="middle" transform="translate(1401.0,1399.4) rotate(48.0)" y="20.5">D3</text>
<text font-size="62" text-anchor="middle" transform="translate(1506.6,1319.8) rotate(48.0)" y="20.5">D4</text>
<text font-size="62" text-anchor="middle" transform="translate(1609.1,1260.8) rotate(48.0)" y="20.5">D5</text>
<text font-size="62" text-anchor="middle" transform="translate(1711.0,1194.4) rotate(48.0)" y="20.5">D6</text>
<text font-size="62" text-anchor="middle" transform="translate(1531.5,1457.7) rotate(-33.0)" y="20.5">Dataset</text>
<text font-size="62" text-anchor="middle" transform="translate(2077.4,293.8) rotate(-5.5)" y="20.5">0.35</text>
<text font-size="62" text-anchor="middle" transform="translate(2102.5,523.0) rotate(-7.0)" y="20.5">0.30</text>
<text font-size="62" text-anchor="middle" transform="translate(2125.5,728.0) rotate(-8.5)" y="20.5">0.26</text>
<text font-size="62" text-anchor="middle" transform="translate(2147.5,926.9) rotate(-3.0)" y="20.5">0.21</text>
<text font-size="62" text-anchor="middle" transform="translate(2166.4,1114.2) rotate(-9.0)" y="20.5">0.17</text>
<text font-size="62" text-anchor="middle" transform="translate(2023.0,775.1) rotate(-90.0)" y="20.5">RMSE</text>
<text font-size="62" text-anchor="middle" transform="translate(2225.5,1183.1) rotate(-31.0)" y="20.5">M1</text>
<text font-size="62" text-anchor="middle" transform="translate(2326.1,1250.2) rotate(-31.0)" y="20.5">M2</text>
<text font-size="62" text-anchor="middle" transform="translate(2419.7,1311.5) rotate(-31.0)" y="20.5">M3</text>
<text font-size="62" text-anchor="middle" transform="translate(2519.5,1385.3) rotate(-31.0)" y="20.5">M4</text>
<text font-size="62" text-anchor="middle" transform="translate(2626.2,1466.5) rotate(-31.0)" y="20.5">M5</text>
<text font-size="62" text-anchor="middle" transform="translate(2724.9,1541.5) rotate(-31.0)" y="20.5">M6</text>
<text font-size="62" text-anchor="middle" transform="translate(2379.8,1420.1) rotate(40.0)" y="20.5">Model</text>
<text font-size="62" text-anchor="middle" transform="translate(3005.6,1543.3) rotate(48.0)" y="20.5">D1</text>
<text font-size="62" text-anchor="middle" transform="translate(3120.7,1460.7) rotate(48.0)" y="20.5">D2</text>
<text font-size="62" text-anchor="middle" transform="translate(3224.1,1383.8) rotate(48.0)" y="20.5">D3</text>
<text font-size="62" text-anchor="middle" transform="translate(3336.5,1315.5) rotate(48.0)" y="20.5">D4</text>
<text font-size="62" text-anchor="middle" transform="translate(3431.5,1243.5) rotate(48.0)" y="20.5">D5</text>
<text font-size="62" text-anchor="middle" transform="translate(3532.1,1177.0) rotate(48.0)" y="20.5">D6</text>
<text font-size="62" text-anchor="middle" transform="translate(3364.5,1429.8) rotate(-33.0)" y="20.5">Dataset</text>
<text font-size="63" text-anchor="middle" x="1105.9" y="1700">(a) MAE</text>
<text font-size="63" text-anchor="middle" x="2915.6" y="1700">(b) RMSE</text>
</svg>
</body></html>
